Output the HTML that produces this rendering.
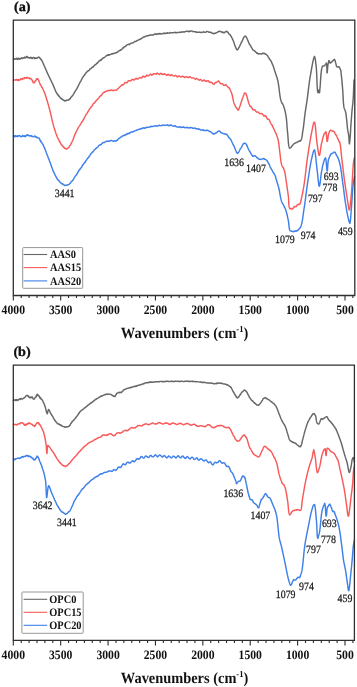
<!DOCTYPE html>
<html><head><meta charset="utf-8"><style>
html,body{margin:0;padding:0;background:#fff;}
body{width:357px;height:687px;overflow:hidden;}
svg{display:block;filter:blur(0.5px);}
text{font-family:"Liberation Serif",serif;fill:#111;text-rendering:geometricPrecision;}
.pl{font-size:14.2px;font-weight:bold;stroke:#000;stroke-width:0.3px;}
.tl{font-size:11.7px;font-weight:bold;text-anchor:middle;}
.at{font-size:14.4px;font-weight:bold;text-anchor:middle;}
.lt{font-size:10.4px;font-weight:bold;}
.an{font-size:9.9px;stroke:#222;stroke-width:0.22px;}
.cv{fill:none;stroke-width:1.45;stroke-linejoin:round;stroke-linecap:round;}
.fr{fill:none;stroke:#303030;stroke-width:1.3;}
.tk{fill:none;stroke:#2a2a2a;stroke-width:1.1;}
.lg{fill:#fff;fill-opacity:0;stroke:#8a8a8a;stroke-width:0.9;}
</style></head><body>
<svg width="357" height="687" viewBox="0 0 357 687">
<text transform="translate(14.00,10.90) scale(1,0.97)" class="pl">(a)</text>
<path d="M13.50,59.30 L14.00,58.84 L14.49,59.14 L14.99,58.77 L15.48,59.12 L15.97,59.20 L16.47,58.38 L16.96,58.29 L17.46,59.47 L17.96,58.41 L18.46,58.20 L18.97,59.26 L19.48,58.42 L20.00,59.02 L20.50,58.49 L21.02,58.69 L21.54,57.79 L22.07,58.31 L22.61,58.45 L23.15,57.78 L23.69,58.08 L24.22,57.98 L24.76,57.03 L25.29,58.00 L25.81,57.56 L26.33,56.93 L26.83,56.38 L27.32,57.65 L27.80,57.11 L28.36,57.63 L28.91,58.00 L29.45,57.79 L29.97,58.09 L30.49,57.28 L31.00,57.97 L31.50,57.58 L32.00,58.54 L32.50,58.64 L33.00,57.53 L33.58,57.58 L34.19,57.62 L34.79,58.71 L35.39,57.95 L35.96,58.36 L36.49,57.95 L36.98,58.26 L37.40,57.95 L37.93,57.43 L38.35,57.25 L38.80,56.99 L39.22,57.61 L39.66,57.64 L40.11,58.57 L40.56,59.09 L41.00,59.49 L41.23,59.60 L41.47,59.59 L41.70,60.44 L41.93,60.90 L42.15,61.02 L42.38,61.51 L42.61,62.01 L42.83,62.53 L43.05,63.06 L43.28,63.59 L43.50,64.13 L43.73,64.66 L43.95,65.18 L44.17,65.70 L44.40,66.20 L44.61,66.65 L44.81,67.10 L45.01,67.55 L45.21,68.01 L45.41,68.46 L45.61,68.91 L45.80,69.36 L46.00,69.82 L46.20,70.28 L46.40,70.74 L46.61,71.21 L46.81,71.68 L47.02,72.15 L47.23,72.63 L47.45,73.11 L47.67,73.60 L47.90,74.10 L48.10,74.52 L48.30,74.96 L48.51,75.40 L48.72,75.85 L48.94,76.30 L49.16,76.76 L49.38,77.23 L49.61,77.70 L49.83,78.17 L50.06,78.64 L50.29,79.12 L50.53,79.60 L50.76,80.07 L50.99,80.54 L51.21,81.01 L51.44,81.48 L51.66,81.95 L51.88,82.40 L52.10,82.86 L52.31,83.30 L52.52,83.74 L52.72,84.17 L52.91,84.59 L53.10,85.00 L53.33,85.51 L53.54,86.01 L53.75,86.50 L53.95,86.99 L54.15,87.47 L54.34,87.95 L54.53,88.42 L54.71,88.88 L54.90,89.33 L55.09,89.78 L55.28,90.22 L55.47,90.65 L55.67,91.07 L55.88,91.75 L56.10,91.97 L56.36,92.60 L56.62,92.75 L56.89,93.65 L57.15,93.91 L57.43,94.11 L57.70,94.32 L57.99,95.22 L58.28,95.64 L58.57,95.35 L58.88,96.19 L59.20,96.29 L59.55,96.54 L59.91,97.10 L60.28,97.90 L60.66,98.40 L61.05,98.20 L61.44,98.90 L61.83,98.74 L62.23,99.41 L62.62,99.33 L63.00,99.92 L63.50,100.29 L64.00,100.29 L64.50,100.93 L65.00,100.62 L65.50,100.50 L66.00,100.77 L66.52,100.21 L67.04,100.17 L67.56,100.19 L68.08,100.22 L68.60,99.72 L69.10,99.33 L69.46,99.58 L69.82,98.80 L70.17,98.80 L70.53,98.29 L70.87,97.46 L71.22,97.08 L71.56,96.70 L71.90,96.39 L72.23,95.96 L72.57,95.52 L72.90,95.13 L73.19,94.95 L73.47,94.19 L73.76,93.66 L74.05,93.35 L74.33,92.50 L74.61,92.05 L74.89,92.05 L75.17,91.27 L75.44,90.87 L75.71,90.10 L75.97,90.00 L76.22,89.74 L76.46,88.97 L76.70,89.01 L76.99,88.54 L77.27,87.63 L77.53,87.50 L77.79,86.86 L78.03,86.48 L78.28,85.73 L78.52,85.47 L78.76,85.00 L79.00,84.02 L79.25,84.00 L79.48,83.52 L79.71,83.04 L79.93,82.56 L80.16,82.07 L80.41,81.36 L80.69,81.31 L81.00,80.97 L81.21,80.10 L81.44,79.83 L81.67,79.49 L81.91,78.84 L82.16,78.39 L82.42,77.87 L82.69,77.44 L82.96,77.14 L83.24,76.50 L83.53,76.15 L83.83,76.04 L84.13,75.14 L84.44,75.15 L84.76,74.87 L85.09,74.15 L85.42,73.64 L85.76,73.57 L86.10,72.69 L86.43,72.22 L86.77,71.98 L87.13,71.80 L87.49,71.07 L87.86,70.95 L88.24,70.70 L88.63,70.77 L89.03,70.18 L89.42,70.10 L89.83,69.20 L90.24,68.89 L90.64,68.70 L91.06,68.51 L91.47,67.91 L91.88,67.50 L92.29,67.19 L92.70,67.21 L93.11,66.65 L93.51,66.70 L93.91,66.30 L94.30,65.41 L94.69,65.07 L95.08,65.08 L95.46,64.65 L95.85,64.48 L96.24,63.89 L96.63,63.45 L97.02,63.23 L97.42,63.19 L97.81,62.39 L98.19,61.99 L98.58,61.62 L98.97,61.24 L99.36,60.91 L99.74,60.99 L100.13,60.21 L100.51,59.85 L100.89,60.23 L101.27,59.87 L101.65,59.58 L102.03,58.82 L102.40,58.83 L102.85,58.43 L103.30,57.63 L103.74,57.76 L104.18,57.63 L104.61,57.30 L105.04,56.95 L105.47,56.49 L105.91,56.18 L106.34,55.75 L106.78,55.33 L107.22,55.47 L107.67,55.10 L108.13,55.36 L108.60,54.70 L109.08,55.14 L109.58,54.76 L110.09,54.66 L110.61,54.40 L111.14,54.25 L111.66,53.98 L112.19,53.59 L112.72,54.08 L113.24,53.56 L113.76,53.45 L114.26,53.45 L114.76,53.13 L115.24,52.89 L115.70,53.14 L116.21,52.79 L116.70,52.45 L117.17,52.14 L117.63,52.23 L118.08,51.59 L118.53,51.42 L118.98,50.79 L119.42,50.41 L119.87,50.43 L120.33,50.41 L120.80,49.71 L121.19,49.87 L121.59,49.62 L121.99,49.16 L122.39,48.77 L122.79,47.83 L123.19,47.94 L123.59,47.83 L124.00,47.03 L124.41,46.95 L124.82,46.69 L125.23,46.56 L125.64,46.13 L126.06,45.79 L126.48,45.64 L126.90,44.80 L127.36,44.61 L127.83,44.52 L128.30,44.41 L128.77,44.24 L129.24,44.68 L129.72,44.34 L130.20,43.52 L130.68,43.54 L131.16,43.22 L131.64,43.10 L132.13,43.05 L132.61,43.14 L133.10,42.91 L133.55,42.49 L134.01,42.05 L134.47,41.82 L134.93,41.40 L135.39,41.50 L135.86,41.46 L136.32,41.09 L136.79,40.71 L137.25,40.53 L137.72,40.35 L138.18,40.17 L138.64,39.97 L139.10,39.43 L139.55,39.54 L140.00,39.29 L140.48,39.01 L140.95,38.76 L141.41,38.56 L141.86,38.36 L142.31,37.81 L142.76,37.67 L143.21,37.26 L143.67,36.93 L144.14,37.01 L144.62,36.98 L145.13,36.35 L145.65,36.32 L146.20,36.00 L146.63,36.10 L147.08,35.99 L147.54,35.52 L148.01,35.87 L148.50,35.79 L148.99,35.35 L149.49,35.35 L150.00,34.91 L150.52,35.19 L151.04,34.95 L151.57,35.08 L152.10,35.05 L152.63,34.99 L153.17,34.98 L153.71,34.71 L154.24,34.19 L154.78,34.37 L155.31,33.90 L155.84,34.02 L156.37,34.51 L156.89,34.00 L157.40,33.94 L157.91,33.77 L158.42,34.14 L158.92,33.53 L159.43,33.39 L159.94,34.01 L160.45,33.56 L160.96,34.06 L161.47,33.85 L161.98,33.81 L162.49,33.73 L163.00,33.37 L163.50,33.53 L164.01,33.06 L164.52,33.63 L165.03,33.45 L165.54,33.50 L166.05,32.92 L166.56,33.22 L167.07,33.28 L167.58,32.68 L168.09,32.94 L168.60,33.17 L169.11,33.34 L169.62,32.83 L170.13,32.63 L170.64,32.55 L171.14,32.76 L171.65,32.89 L172.16,32.73 L172.67,32.77 L173.18,32.78 L173.69,32.64 L174.20,32.55 L174.71,32.20 L175.22,32.45 L175.73,32.84 L176.24,32.53 L176.75,32.82 L177.26,32.38 L177.76,32.63 L178.27,32.53 L178.78,32.36 L179.29,32.22 L179.80,32.24 L180.32,32.43 L180.84,32.63 L181.37,32.03 L181.91,31.82 L182.46,32.10 L183.01,32.09 L183.56,31.80 L184.11,31.80 L184.66,32.02 L185.21,31.59 L185.76,31.49 L186.29,31.25 L186.82,31.38 L187.35,31.15 L187.86,31.13 L188.36,31.52 L188.84,31.73 L189.31,31.22 L189.76,31.41 L190.20,31.09 L190.61,31.32 L191.00,31.11 L191.59,30.99 L192.12,31.14 L192.60,31.19 L193.06,31.65 L193.51,31.65 L193.97,31.51 L194.46,31.63 L195.00,31.63 L195.44,32.02 L195.90,31.71 L196.37,32.45 L196.86,32.19 L197.35,32.28 L197.86,32.12 L198.38,32.28 L198.90,32.23 L199.42,32.09 L199.94,32.15 L200.46,32.44 L200.98,32.59 L201.50,32.24 L202.00,32.36 L202.50,32.41 L203.01,32.00 L203.52,31.84 L204.03,31.91 L204.55,32.31 L205.06,32.26 L205.57,32.35 L206.08,32.12 L206.59,31.56 L207.09,31.47 L207.58,31.56 L208.06,31.62 L208.54,32.11 L209.00,32.30 L209.56,32.39 L210.10,31.99 L210.63,32.52 L211.15,32.35 L211.66,32.74 L212.17,33.30 L212.67,33.15 L213.18,33.33 L213.69,33.88 L214.20,33.41 L214.68,33.30 L215.17,33.30 L215.66,33.23 L216.15,32.62 L216.64,32.67 L217.12,32.47 L217.61,32.17 L218.09,31.61 L218.56,31.57 L219.04,31.64 L219.50,31.22 L220.06,31.48 L220.63,31.42 L221.19,31.75 L221.75,32.18 L222.29,31.90 L222.82,32.57 L223.32,32.73 L223.80,32.27 L224.37,32.82 L224.89,32.16 L225.39,32.05 L225.88,31.67 L226.40,31.17 L226.80,31.51 L227.21,31.72 L227.62,32.21 L228.04,32.32 L228.46,33.19 L228.87,33.86 L229.27,34.13 L229.64,34.46 L230.00,34.53 L230.30,35.12 L230.58,35.36 L230.84,35.99 L231.10,36.37 L231.34,36.73 L231.58,36.93 L231.82,37.76 L232.07,38.28 L232.33,38.52 L232.60,39.59 L232.79,39.60 L232.99,40.05 L233.19,40.55 L233.39,41.09 L233.60,41.66 L233.81,42.26 L234.02,42.87 L234.23,43.50 L234.45,44.13 L234.66,44.76 L234.88,45.39 L235.10,45.99 L235.32,46.57 L235.54,47.12 L235.76,47.64 L235.98,48.11 L236.20,48.68 L236.42,48.71 L236.65,49.61 L236.86,49.30 L237.08,49.58 L237.30,49.89 L237.55,49.72 L237.81,49.49 L238.06,49.25 L238.32,48.72 L238.58,48.17 L238.83,47.59 L239.09,47.44 L239.35,46.89 L239.61,46.31 L239.86,45.71 L240.12,45.11 L240.38,44.51 L240.63,43.93 L240.89,43.38 L241.15,42.71 L241.40,42.67 L241.67,42.16 L241.95,41.36 L242.22,40.79 L242.49,40.19 L242.76,39.59 L243.04,39.00 L243.31,38.42 L243.58,37.82 L243.85,37.52 L244.12,36.88 L244.39,36.52 L244.66,36.37 L244.93,36.57 L245.20,35.92 L245.45,36.28 L245.70,36.22 L245.96,36.80 L246.21,36.80 L246.46,37.15 L246.71,37.85 L246.96,38.39 L247.21,38.96 L247.46,39.55 L247.71,40.17 L247.96,40.78 L248.21,41.39 L248.46,41.97 L248.71,42.53 L248.95,43.12 L249.20,43.67 L249.46,44.27 L249.71,44.39 L249.95,45.13 L250.19,45.01 L250.43,45.52 L250.67,45.81 L250.91,46.23 L251.16,47.13 L251.42,47.54 L251.69,47.62 L251.97,48.09 L252.28,48.72 L252.60,49.39 L252.93,49.85 L253.28,50.17 L253.64,50.38 L254.01,50.37 L254.39,50.84 L254.78,51.01 L255.18,51.60 L255.60,52.02 L256.01,52.18 L256.44,52.61 L256.87,53.31 L257.31,53.01 L257.75,53.69 L258.20,53.83 L258.68,53.91 L259.19,53.57 L259.72,53.78 L260.26,53.89 L260.82,53.95 L261.37,54.10 L261.93,53.70 L262.48,53.24 L263.01,53.52 L263.53,53.28 L264.02,53.48 L264.48,53.73 L264.90,53.40 L265.37,54.14 L265.80,54.27 L266.19,54.38 L266.56,54.69 L266.91,55.01 L267.26,55.25 L267.59,55.98 L267.94,56.18 L268.30,57.07 L268.57,57.58 L268.84,57.86 L269.12,58.35 L269.39,59.03 L269.67,59.37 L269.95,59.24 L270.23,60.10 L270.50,60.41 L270.77,60.46 L271.04,61.15 L271.30,61.57 L271.55,62.00 L271.80,62.88 L272.04,63.37 L272.27,63.86 L272.49,64.33 L272.70,64.80 L272.91,65.29 L273.10,65.77 L273.29,66.27 L273.46,66.76 L273.62,67.25 L273.78,67.74 L273.93,68.24 L274.08,68.73 L274.23,69.22 L274.37,69.71 L274.51,70.19 L274.65,70.68 L274.80,71.16 L274.95,71.63 L275.10,72.10 L275.27,72.59 L275.44,73.08 L275.61,73.57 L275.78,74.05 L275.95,74.53 L276.13,75.01 L276.29,75.48 L276.46,75.95 L276.62,76.43 L276.78,76.89 L276.92,77.36 L277.07,77.83 L277.20,78.30 L277.34,78.80 L277.46,79.29 L277.57,79.76 L277.68,80.22 L277.78,80.69 L277.88,81.16 L277.98,81.65 L278.08,82.16 L278.18,82.70 L278.29,83.28 L278.40,83.90 L278.47,84.27 L278.53,84.67 L278.60,85.09 L278.66,85.52 L278.73,85.98 L278.79,86.45 L278.85,86.94 L278.92,87.44 L278.98,87.96 L279.05,88.49 L279.11,89.02 L279.18,89.57 L279.25,90.12 L279.31,90.68 L279.38,91.24 L279.45,91.80 L279.52,92.37 L279.59,92.93 L279.67,93.49 L279.74,94.05 L279.82,94.61 L279.89,95.15 L279.97,95.69 L280.05,96.22 L280.14,96.74 L280.22,97.25 L280.31,97.75 L280.40,98.22 L280.49,98.69 L280.59,99.13 L280.69,99.56 L280.79,99.96 L280.89,100.34 L281.00,100.70 L281.20,101.28 L281.42,101.81 L281.64,102.39 L281.88,103.05 L282.12,102.98 L282.36,103.72 L282.60,103.96 L282.84,103.96 L283.07,104.80 L283.29,105.27 L283.50,105.80 L283.65,106.22 L283.80,106.64 L283.94,107.08 L284.08,107.53 L284.22,107.98 L284.36,108.45 L284.49,108.92 L284.62,109.41 L284.75,109.90 L284.88,110.40 L285.01,110.91 L285.13,111.43 L285.25,111.95 L285.36,112.48 L285.48,113.02 L285.59,113.56 L285.69,114.12 L285.80,114.67 L285.90,115.23 L286.00,115.80 L286.07,116.25 L286.14,116.70 L286.21,117.17 L286.27,117.64 L286.33,118.12 L286.39,118.61 L286.45,119.10 L286.50,119.60 L286.55,120.10 L286.59,120.61 L286.64,121.13 L286.68,121.65 L286.73,122.17 L286.77,122.69 L286.81,123.22 L286.85,123.75 L286.89,124.29 L286.93,124.82 L286.96,125.36 L287.00,125.89 L287.04,126.43 L287.08,126.96 L287.12,127.50 L287.16,128.03 L287.20,128.56 L287.25,129.09 L287.29,129.62 L287.34,130.14 L287.38,130.66 L287.43,131.18 L287.49,131.69 L287.54,132.20 L287.60,132.70 L287.66,133.24 L287.72,133.80 L287.77,134.39 L287.82,134.99 L287.87,135.62 L287.92,136.25 L287.97,136.90 L288.01,137.55 L288.06,138.22 L288.10,138.88 L288.15,139.54 L288.20,140.20 L288.25,140.85 L288.30,141.49 L288.35,142.12 L288.41,142.73 L288.47,143.33 L288.53,143.90 L288.60,144.45 L288.68,144.97 L288.76,145.46 L288.84,145.91 L288.94,146.33 L289.04,146.71 L289.14,147.05 L289.26,147.34 L289.38,147.96 L289.51,147.96 L289.65,148.30 L289.80,148.20 L290.10,148.14 L290.42,147.61 L290.76,147.57 L291.12,147.22 L291.49,146.72 L291.88,145.99 L292.28,145.79 L292.69,145.21 L293.10,144.57 L293.50,144.17 L293.93,143.80 L294.37,143.48 L294.82,143.10 L295.28,143.05 L295.74,142.99 L296.19,142.71 L296.64,142.45 L297.08,142.39 L297.50,141.87 L297.99,141.65 L298.48,141.59 L298.97,141.16 L299.45,140.89 L299.90,141.30 L300.32,141.00 L300.70,140.44 L300.90,140.18 L301.08,139.97 L301.25,139.45 L301.40,139.07 L301.54,138.66 L301.67,138.22 L301.79,137.76 L301.89,137.28 L301.99,136.77 L302.08,136.25 L302.16,135.72 L302.25,135.17 L302.32,134.61 L302.40,134.04 L302.48,133.47 L302.55,132.89 L302.63,132.32 L302.72,131.74 L302.81,131.17 L302.90,130.60 L302.97,130.17 L303.05,129.73 L303.12,129.27 L303.19,128.81 L303.26,128.34 L303.32,127.87 L303.39,127.38 L303.46,126.89 L303.52,126.39 L303.59,125.89 L303.65,125.38 L303.71,124.86 L303.77,124.35 L303.84,123.82 L303.90,123.30 L303.96,122.77 L304.02,122.25 L304.08,121.72 L304.14,121.19 L304.20,120.66 L304.26,120.13 L304.31,119.60 L304.37,119.07 L304.43,118.55 L304.49,118.03 L304.55,117.51 L304.61,117.00 L304.67,116.49 L304.73,115.98 L304.79,115.49 L304.85,114.99 L304.91,114.51 L304.97,114.03 L305.04,113.56 L305.10,113.10 L305.17,112.57 L305.25,112.05 L305.32,111.54 L305.40,111.04 L305.47,110.55 L305.54,110.07 L305.62,109.59 L305.69,109.12 L305.76,108.66 L305.84,108.19 L305.91,107.73 L305.99,107.27 L306.06,106.81 L306.13,106.34 L306.21,105.87 L306.28,105.40 L306.36,104.92 L306.44,104.43 L306.52,103.93 L306.59,103.43 L306.67,102.91 L306.75,102.38 L306.83,101.83 L306.92,101.27 L307.00,100.70 L307.06,100.28 L307.12,99.85 L307.18,99.42 L307.24,98.97 L307.30,98.52 L307.36,98.06 L307.42,97.60 L307.48,97.13 L307.54,96.65 L307.60,96.16 L307.67,95.67 L307.73,95.18 L307.79,94.68 L307.85,94.18 L307.91,93.67 L307.98,93.15 L308.04,92.64 L308.10,92.12 L308.17,91.59 L308.23,91.07 L308.30,90.54 L308.36,90.01 L308.43,89.48 L308.49,88.94 L308.56,88.41 L308.63,87.87 L308.69,87.33 L308.76,86.79 L308.83,86.26 L308.90,85.72 L308.97,85.18 L309.04,84.65 L309.11,84.11 L309.18,83.58 L309.25,83.05 L309.32,82.52 L309.39,81.99 L309.47,81.47 L309.54,80.95 L309.62,80.43 L309.69,79.91 L309.77,79.40 L309.84,78.90 L309.92,78.40 L310.00,77.90 L310.08,77.41 L310.16,76.92 L310.24,76.44 L310.32,75.97 L310.40,75.50 L310.50,74.96 L310.59,74.40 L310.69,73.82 L310.80,73.23 L310.90,72.62 L311.01,72.00 L311.12,71.37 L311.23,70.74 L311.34,70.09 L311.45,69.44 L311.57,68.79 L311.68,68.13 L311.80,67.48 L311.92,66.83 L312.04,66.18 L312.16,65.54 L312.27,64.91 L312.39,64.29 L312.51,63.68 L312.63,63.08 L312.75,62.51 L312.86,61.94 L312.98,61.40 L313.09,60.88 L313.21,60.38 L313.32,59.91 L313.43,59.47 L313.54,59.05 L313.65,58.67 L313.75,58.31 L313.85,58.00 L313.96,57.71 L314.05,57.47 L314.15,57.30 L314.24,56.86 L314.33,56.57 L314.42,56.63 L314.50,56.99 L314.61,56.57 L314.72,56.91 L314.82,57.28 L314.92,57.56 L315.02,57.90 L315.11,58.30 L315.21,58.76 L315.29,59.26 L315.38,59.80 L315.47,60.38 L315.55,60.99 L315.63,61.62 L315.70,62.27 L315.78,62.93 L315.85,63.59 L315.93,64.26 L316.00,64.92 L316.07,65.57 L316.13,66.19 L316.20,66.80 L316.24,67.22 L316.29,67.66 L316.33,68.11 L316.37,68.58 L316.40,69.06 L316.44,69.55 L316.47,70.06 L316.51,70.58 L316.54,71.11 L316.57,71.65 L316.60,72.20 L316.63,72.75 L316.65,73.31 L316.68,73.88 L316.70,74.45 L316.73,75.03 L316.75,75.61 L316.77,76.19 L316.79,76.77 L316.81,77.35 L316.83,77.93 L316.86,78.51 L316.88,79.08 L316.90,79.65 L316.91,80.21 L316.93,80.77 L316.95,81.32 L316.97,81.87 L316.99,82.40 L317.01,82.93 L317.03,83.44 L317.05,83.94 L317.08,84.43 L317.10,84.91 L317.12,85.37 L317.14,85.82 L317.17,86.24 L317.19,86.65 L317.22,87.05 L317.24,87.42 L317.27,87.77 L317.30,88.10 L317.36,88.80 L317.42,89.50 L317.48,90.18 L317.54,90.82 L317.60,91.39 L317.66,91.88 L317.73,92.26 L317.81,92.51 L317.90,92.41 L318.06,92.28 L318.24,91.55 L318.42,90.83 L318.60,90.18 L318.75,90.77 L318.89,91.42 L319.03,92.19 L319.17,92.84 L319.30,92.74 L319.38,92.83 L319.45,92.81 L319.52,92.49 L319.59,92.06 L319.66,91.55 L319.72,90.97 L319.79,90.34 L319.85,89.68 L319.91,88.99 L319.97,88.31 L320.04,87.64 L320.10,87.00 L320.14,86.59 L320.18,86.17 L320.22,85.72 L320.25,85.25 L320.29,84.77 L320.32,84.27 L320.35,83.76 L320.39,83.24 L320.42,82.70 L320.45,82.16 L320.48,81.61 L320.52,81.06 L320.55,80.50 L320.58,79.94 L320.61,79.38 L320.65,78.82 L320.68,78.26 L320.72,77.71 L320.75,77.17 L320.79,76.63 L320.83,76.10 L320.87,75.58 L320.91,75.08 L320.95,74.58 L321.00,74.11 L321.05,73.65 L321.09,73.21 L321.15,72.80 L321.20,72.40 L321.28,71.77 L321.36,71.15 L321.43,70.55 L321.50,69.96 L321.57,69.40 L321.66,68.87 L321.76,68.37 L321.87,67.91 L322.02,67.49 L322.19,66.84 L322.40,66.38 L322.89,65.98 L323.47,65.84 L324.07,66.01 L324.60,65.51 L325.00,65.04 L325.37,64.70 L325.72,63.99 L326.03,63.67 L326.30,63.02 L326.41,63.35 L326.51,63.75 L326.59,64.12 L326.66,64.58 L326.72,65.14 L326.77,65.76 L326.81,66.44 L326.84,67.16 L326.87,67.91 L326.89,68.65 L326.91,69.39 L326.92,70.11 L326.94,70.78 L326.95,71.39 L326.97,71.92 L327.00,72.37 L327.02,72.71 L327.06,72.92 L327.10,72.78 L327.15,72.93 L327.20,72.73 L327.25,72.42 L327.30,72.01 L327.34,71.51 L327.39,70.94 L327.44,70.32 L327.49,69.65 L327.54,68.96 L327.60,68.26 L327.66,67.56 L327.72,66.87 L327.78,66.22 L327.85,65.61 L327.92,65.07 L328.00,64.60 L328.12,63.97 L328.24,63.31 L328.38,62.64 L328.51,62.01 L328.66,61.46 L328.80,61.01 L328.95,60.53 L329.10,61.07 L329.26,60.79 L329.42,61.29 L329.59,61.95 L329.76,62.62 L329.96,62.96 L330.20,63.07 L330.57,63.14 L330.99,62.47 L331.44,62.28 L331.90,61.67 L332.30,61.18 L332.74,60.68 L333.19,60.63 L333.64,59.80 L334.05,59.76 L334.40,59.39 L334.64,59.84 L334.86,60.01 L335.04,60.48 L335.20,61.04 L335.35,61.66 L335.50,62.28 L335.65,62.88 L335.80,63.40 L335.95,63.93 L336.08,64.50 L336.20,65.08 L336.33,65.64 L336.47,66.13 L336.66,66.52 L336.90,66.77 L337.42,66.84 L338.03,66.97 L338.60,66.77 L338.99,66.80 L339.36,67.01 L339.70,67.94 L340.02,68.75 L340.30,69.00 L340.45,69.38 L340.58,69.80 L340.69,70.24 L340.79,70.71 L340.87,71.20 L340.95,71.72 L341.01,72.26 L341.08,72.82 L341.14,73.39 L341.20,73.98 L341.26,74.58 L341.33,75.18 L341.40,75.80 L341.45,76.22 L341.50,76.65 L341.55,77.08 L341.60,77.53 L341.65,77.99 L341.70,78.46 L341.75,78.93 L341.80,79.41 L341.85,79.90 L341.89,80.40 L341.94,80.90 L341.99,81.41 L342.03,81.92 L342.08,82.44 L342.12,82.96 L342.17,83.48 L342.21,84.01 L342.26,84.54 L342.30,85.08 L342.35,85.61 L342.39,86.15 L342.44,86.69 L342.48,87.23 L342.52,87.76 L342.57,88.30 L342.61,88.83 L342.66,89.37 L342.70,89.90 L342.74,90.39 L342.78,90.89 L342.81,91.41 L342.85,91.94 L342.88,92.47 L342.91,93.01 L342.94,93.56 L342.97,94.12 L343.00,94.68 L343.03,95.25 L343.06,95.81 L343.08,96.38 L343.11,96.96 L343.14,97.53 L343.17,98.10 L343.19,98.66 L343.22,99.23 L343.25,99.79 L343.29,100.34 L343.32,100.89 L343.35,101.43 L343.39,101.96 L343.42,102.49 L343.46,103.00 L343.50,103.50 L343.55,103.99 L343.59,104.46 L343.64,104.92 L343.69,105.36 L343.75,105.79 L343.81,106.19 L343.87,106.58 L343.93,106.95 L344.00,107.30 L344.15,107.91 L344.31,108.44 L344.48,108.92 L344.66,109.37 L344.84,109.79 L345.02,110.20 L345.20,110.63 L345.36,111.09 L345.50,111.60 L345.61,112.05 L345.70,112.51 L345.79,112.98 L345.88,113.46 L345.96,113.95 L346.03,114.45 L346.10,114.95 L346.17,115.47 L346.23,116.00 L346.30,116.53 L346.36,117.08 L346.43,117.63 L346.50,118.20 L346.56,118.66 L346.61,119.14 L346.66,119.64 L346.72,120.15 L346.77,120.67 L346.82,121.20 L346.87,121.74 L346.92,122.28 L346.97,122.83 L347.02,123.38 L347.06,123.93 L347.11,124.48 L347.16,125.03 L347.21,125.58 L347.27,126.11 L347.32,126.64 L347.37,127.16 L347.43,127.67 L347.48,128.16 L347.54,128.64 L347.60,129.10 L347.68,129.65 L347.76,130.19 L347.85,130.70 L347.94,131.20 L348.03,131.69 L348.12,132.17 L348.21,132.65 L348.30,133.13 L348.39,133.60 L348.47,134.09 L348.55,134.58 L348.63,135.08 L348.70,135.60 L348.76,136.11 L348.81,136.67 L348.86,137.27 L348.91,137.91 L348.95,138.57 L349.00,139.24 L349.04,139.90 L349.07,140.54 L349.11,141.16 L349.15,141.73 L349.19,142.25 L349.23,142.70 L349.27,143.08 L349.31,143.36 L349.35,143.54 L349.40,143.79 L349.45,143.53 L349.51,143.34 L349.57,143.03 L349.63,142.62 L349.68,142.13 L349.74,141.57 L349.80,140.96 L349.86,140.30 L349.92,139.62 L349.98,138.92 L350.04,138.23 L350.10,137.55 L350.15,136.90 L350.20,136.30 L350.24,135.83 L350.28,135.35 L350.31,134.87 L350.35,134.38 L350.38,133.89 L350.42,133.39 L350.45,132.89 L350.48,132.38 L350.51,131.86 L350.54,131.34 L350.57,130.82 L350.60,130.29 L350.63,129.76 L350.66,129.23 L350.69,128.69 L350.72,128.15 L350.76,127.61 L350.79,127.06 L350.83,126.51 L350.86,125.95 L350.90,125.40 L350.93,124.93 L350.97,124.46 L351.00,123.98 L351.03,123.49 L351.07,123.00 L351.10,122.50 L351.14,122.00 L351.18,121.49 L351.21,120.98 L351.25,120.47 L351.29,119.96 L351.32,119.44 L351.36,118.93 L351.40,118.41 L351.44,117.89 L351.48,117.37 L351.52,116.86 L351.56,116.34 L351.60,115.83 L351.63,115.31 L351.67,114.81 L351.72,114.30 L351.76,113.80 L351.80,113.30 L351.84,112.81 L351.88,112.32 L351.92,111.84 L351.96,111.37 L352.00,110.90 L352.05,110.35 L352.10,109.81 L352.15,109.29 L352.21,108.77 L352.26,108.27 L352.32,107.77 L352.37,107.27 L352.43,106.78 L352.48,106.29 L352.54,105.80 L352.59,105.31 L352.65,104.82 L352.70,104.32 L352.76,103.82 L352.81,103.31 L352.86,102.79 L352.91,102.26 L352.96,101.72 L353.01,101.16 L353.06,100.59 L353.10,100.00 L353.13,99.57 L353.16,99.14 L353.19,98.69 L353.22,98.25 L353.24,97.79 L353.27,97.33 L353.30,96.86 L353.32,96.39 L353.35,95.91 L353.37,95.43 L353.40,94.94 L353.42,94.44 L353.44,93.95 L353.46,93.45 L353.49,92.94 L353.51,92.44 L353.53,91.93 L353.55,91.41 L353.57,90.90 L353.59,90.38 L353.61,89.86 L353.63,89.34 L353.65,88.81 L353.67,88.29 L353.69,87.77 L353.71,87.24 L353.73,86.72 L353.75,86.19 L353.77,85.67 L353.79,85.14 L353.81,84.62 L353.83,84.10 L353.85,83.58 L353.87,83.06 L353.89,82.54 L353.91,82.03 L353.93,81.52 L353.96,81.01 L353.98,80.50 L354.00,80.00" stroke="#676767" class="cv"/>
<path d="M13.50,80.70 L14.00,79.87 L14.49,79.92 L14.99,80.00 L15.48,80.03 L15.97,79.70 L16.47,79.53 L16.96,80.17 L17.46,80.43 L17.96,79.50 L18.46,80.53 L18.97,79.81 L19.48,80.08 L20.00,80.01 L20.48,79.85 L20.97,78.53 L21.47,78.83 L21.99,79.17 L22.51,79.50 L23.03,78.15 L23.56,78.14 L24.08,78.63 L24.60,77.51 L25.11,77.82 L25.60,77.72 L26.08,78.11 L26.55,78.32 L26.99,77.18 L27.41,77.82 L27.80,77.79 L28.43,78.06 L29.00,77.96 L29.53,78.74 L30.03,78.25 L30.52,78.55 L31.00,78.56 L31.37,79.61 L31.74,79.70 L32.09,80.01 L32.43,80.52 L32.76,81.88 L33.08,82.28 L33.40,82.83 L33.70,82.65 L34.00,82.83 L34.36,82.15 L34.71,82.42 L35.04,80.93 L35.37,80.91 L35.68,80.75 L36.00,80.23 L36.36,79.05 L36.70,78.77 L37.05,79.20 L37.40,78.77 L37.62,79.14 L37.84,79.32 L38.07,79.06 L38.29,79.62 L38.52,80.13 L38.75,80.70 L38.99,81.30 L39.23,81.92 L39.48,82.54 L39.74,83.14 L40.00,83.70 L40.21,84.74 L40.42,84.95 L40.65,84.85 L40.88,85.32 L41.12,85.64 L41.36,86.24 L41.61,86.98 L41.85,86.89 L42.11,87.61 L42.36,87.80 L42.60,88.27 L42.85,89.13 L43.09,89.41 L43.33,90.06 L43.56,90.54 L43.79,91.01 L44.00,91.48 L44.21,91.94 L44.40,92.40 L44.60,92.90 L44.79,93.39 L44.97,93.87 L45.15,94.35 L45.32,94.84 L45.48,95.32 L45.64,95.80 L45.79,96.28 L45.94,96.76 L46.09,97.25 L46.24,97.74 L46.38,98.24 L46.53,98.74 L46.68,99.25 L46.84,99.77 L47.00,100.30 L47.14,100.75 L47.28,101.21 L47.41,101.68 L47.55,102.15 L47.69,102.62 L47.84,103.11 L47.98,103.59 L48.12,104.08 L48.26,104.57 L48.40,105.07 L48.54,105.57 L48.68,106.07 L48.82,106.56 L48.95,107.06 L49.09,107.56 L49.23,108.06 L49.36,108.56 L49.49,109.05 L49.62,109.55 L49.75,110.03 L49.88,110.52 L50.00,111.00 L50.13,111.50 L50.25,112.01 L50.37,112.51 L50.49,113.01 L50.61,113.52 L50.72,114.02 L50.84,114.52 L50.95,115.02 L51.06,115.52 L51.17,116.02 L51.28,116.52 L51.39,117.02 L51.50,117.51 L51.61,118.00 L51.72,118.49 L51.84,118.98 L51.95,119.46 L52.06,119.95 L52.18,120.42 L52.30,120.90 L52.43,121.41 L52.56,121.92 L52.69,122.43 L52.82,122.93 L52.94,123.43 L53.07,123.92 L53.20,124.42 L53.33,124.91 L53.46,125.40 L53.60,125.88 L53.73,126.37 L53.87,126.86 L54.01,127.35 L54.15,127.83 L54.30,128.32 L54.45,128.81 L54.60,129.30 L54.76,129.80 L54.91,130.30 L55.07,130.80 L55.23,131.31 L55.40,131.81 L55.56,132.32 L55.73,132.82 L55.90,133.32 L56.07,133.83 L56.25,134.33 L56.43,134.82 L56.61,135.31 L56.80,135.80 L56.99,136.29 L57.19,136.76 L57.39,137.24 L57.60,137.70 L57.83,138.19 L58.07,138.69 L58.31,139.03 L58.56,139.60 L58.82,140.37 L59.08,140.78 L59.35,140.86 L59.61,141.41 L59.88,142.27 L60.16,142.25 L60.43,142.90 L60.70,143.27 L60.97,143.94 L61.24,144.29 L61.50,144.84 L61.83,145.19 L62.17,145.45 L62.50,145.84 L62.84,146.14 L63.17,146.90 L63.51,146.78 L63.84,147.03 L64.17,147.91 L64.50,147.76 L65.00,148.64 L65.50,148.54 L65.99,148.95 L66.50,148.76 L66.93,148.91 L67.37,148.49 L67.81,148.19 L68.25,147.94 L68.68,147.65 L69.10,146.93 L69.38,146.75 L69.65,146.26 L69.92,145.62 L70.19,145.57 L70.45,144.93 L70.71,144.55 L70.97,143.69 L71.22,143.40 L71.47,143.00 L71.72,142.50 L71.96,142.00 L72.20,141.50 L72.40,141.06 L72.60,140.62 L72.79,140.15 L72.98,139.68 L73.17,139.20 L73.35,138.72 L73.53,138.23 L73.71,137.73 L73.89,137.24 L74.07,136.74 L74.25,136.25 L74.44,135.77 L74.62,135.29 L74.81,134.81 L75.00,134.35 L75.20,133.90 L75.43,133.40 L75.65,132.92 L75.88,132.43 L76.11,131.96 L76.34,131.49 L76.57,131.12 L76.81,130.80 L77.05,129.92 L77.29,129.57 L77.54,129.14 L77.79,128.39 L78.04,128.18 L78.30,127.82 L78.55,127.20 L78.81,126.94 L79.07,126.53 L79.34,125.92 L79.61,125.62 L79.89,125.61 L80.16,124.80 L80.44,124.40 L80.72,123.72 L81.00,123.31 L81.28,122.78 L81.55,122.75 L81.83,122.16 L82.10,121.81 L82.35,121.48 L82.59,120.88 L82.84,120.70 L83.08,120.09 L83.31,119.63 L83.55,119.54 L83.79,119.08 L84.03,118.66 L84.27,117.91 L84.52,117.59 L84.77,116.87 L85.02,116.73 L85.28,116.21 L85.55,115.37 L85.82,115.31 L86.10,114.45 L86.34,114.05 L86.59,114.07 L86.85,113.45 L87.11,113.20 L87.37,112.86 L87.64,112.06 L87.91,112.01 L88.18,111.24 L88.45,110.84 L88.73,110.31 L89.01,110.09 L89.30,109.67 L89.58,108.99 L89.87,108.51 L90.16,108.26 L90.45,107.96 L90.74,107.37 L91.03,107.01 L91.32,106.93 L91.62,106.44 L91.91,106.15 L92.20,105.71 L92.53,105.18 L92.86,104.45 L93.20,103.95 L93.54,103.69 L93.88,103.45 L94.22,103.14 L94.56,102.76 L94.91,102.23 L95.26,102.07 L95.60,101.26 L95.95,100.93 L96.30,100.78 L96.65,100.37 L97.00,99.74 L97.35,99.41 L97.70,99.43 L98.05,98.61 L98.40,98.29 L98.75,98.08 L99.10,97.62 L99.45,96.93 L99.80,96.42 L100.15,96.11 L100.50,96.10 L100.85,95.59 L101.20,95.57 L101.55,95.10 L101.90,94.83 L102.26,93.85 L102.62,93.51 L102.99,92.99 L103.36,92.88 L103.73,92.52 L104.11,92.13 L104.50,92.25 L104.98,91.78 L105.48,91.67 L105.98,91.33 L106.49,91.35 L107.01,90.87 L107.53,90.64 L108.05,90.46 L108.57,90.66 L109.08,90.67 L109.60,90.52 L110.10,90.47 L110.60,90.26 L111.13,89.90 L111.65,89.94 L112.17,90.44 L112.69,90.53 L113.20,90.35 L113.72,90.50 L114.22,90.30 L114.72,90.17 L115.21,90.13 L115.70,90.01 L116.11,90.24 L116.52,90.14 L116.91,89.81 L117.30,89.17 L117.68,88.91 L118.07,88.72 L118.44,88.34 L118.82,87.93 L119.21,87.52 L119.59,87.25 L119.99,86.67 L120.39,86.41 L120.80,86.04 L121.21,85.65 L121.63,85.03 L122.05,84.84 L122.48,84.84 L122.91,84.91 L123.34,84.92 L123.78,84.24 L124.22,83.89 L124.66,82.77 L125.10,82.44 L125.55,82.43 L126.00,82.45 L126.45,82.81 L126.90,82.70 L127.36,82.37 L127.83,81.59 L128.29,80.67 L128.76,80.67 L129.23,80.66 L129.71,80.83 L130.18,80.86 L130.66,81.00 L131.14,80.69 L131.63,79.63 L132.12,79.54 L132.61,79.25 L133.10,79.52 L133.58,80.00 L134.06,80.10 L134.55,79.64 L135.05,78.87 L135.54,78.83 L136.04,78.20 L136.55,78.49 L137.05,79.08 L137.55,78.94 L138.05,78.74 L138.54,78.68 L139.03,78.17 L139.52,77.52 L140.00,77.61 L140.49,77.80 L140.96,77.91 L141.43,77.90 L141.89,77.96 L142.34,76.88 L142.80,76.50 L143.25,76.27 L143.72,76.28 L144.19,76.79 L144.67,77.06 L145.16,76.95 L145.67,76.34 L146.20,75.87 L146.65,75.08 L147.10,75.24 L147.57,75.87 L148.04,75.58 L148.52,75.71 L149.01,75.52 L149.50,74.85 L150.00,74.54 L150.51,74.08 L151.02,74.37 L151.54,75.11 L152.06,74.73 L152.58,74.91 L153.11,73.94 L153.64,73.97 L154.17,73.70 L154.70,73.96 L155.23,74.02 L155.77,74.07 L156.30,74.21 L156.79,73.42 L157.28,73.11 L157.78,73.51 L158.28,73.89 L158.79,73.82 L159.30,74.58 L159.81,74.17 L160.33,73.69 L160.84,73.23 L161.36,73.45 L161.88,74.22 L162.41,74.28 L162.93,74.43 L163.45,74.29 L163.97,73.91 L164.50,73.80 L165.02,74.25 L165.54,74.19 L166.05,74.74 L166.57,75.40 L167.08,75.27 L167.59,74.90 L168.10,74.22 L168.60,74.38 L169.12,75.16 L169.64,75.37 L170.16,75.72 L170.67,75.33 L171.18,74.80 L171.69,74.75 L172.20,75.11 L172.71,75.56 L173.22,75.92 L173.73,76.10 L174.23,76.03 L174.74,75.63 L175.24,75.43 L175.75,75.69 L176.25,75.71 L176.76,76.44 L177.26,76.92 L177.77,76.79 L178.28,76.05 L178.78,76.23 L179.29,76.17 L179.80,76.13 L180.31,76.68 L180.84,76.93 L181.37,76.73 L181.91,76.90 L182.46,76.24 L183.01,76.59 L183.56,76.57 L184.11,76.97 L184.66,77.61 L185.21,77.29 L185.76,76.99 L186.29,76.64 L186.83,76.77 L187.35,77.39 L187.86,77.35 L188.36,77.66 L188.84,77.33 L189.31,76.81 L189.76,76.90 L190.20,76.84 L190.61,77.28 L191.00,77.60 L191.59,77.99 L192.12,78.01 L192.61,77.90 L193.06,77.89 L193.51,77.85 L193.97,78.10 L194.46,78.61 L195.00,78.81 L195.44,79.38 L195.90,78.85 L196.37,78.49 L196.86,78.54 L197.35,78.81 L197.86,79.05 L198.37,79.79 L198.89,79.91 L199.42,80.27 L199.94,79.66 L200.46,79.47 L200.98,79.65 L201.49,80.32 L202.00,80.91 L202.50,80.92 L203.01,80.77 L203.52,80.54 L204.03,79.94 L204.55,80.21 L205.06,80.87 L205.57,81.32 L206.08,81.15 L206.59,81.53 L207.09,80.92 L207.58,81.02 L208.07,80.70 L208.54,80.98 L209.00,81.70 L209.51,82.39 L210.02,82.30 L210.52,82.48 L211.02,82.27 L211.50,82.19 L211.97,82.59 L212.44,83.35 L212.90,83.85 L213.34,84.11 L213.78,84.22 L214.20,84.03 L214.67,83.35 L215.12,82.69 L215.54,82.51 L215.96,82.51 L216.37,82.58 L216.79,82.13 L217.23,81.77 L217.70,81.48 L218.10,81.16 L218.53,80.91 L218.96,81.45 L219.41,82.23 L219.87,82.69 L220.33,83.40 L220.80,83.77 L221.26,83.81 L221.71,83.82 L222.16,83.62 L222.59,84.07 L223.00,84.20 L223.52,85.27 L224.03,85.32 L224.54,85.33 L225.03,85.27 L225.51,84.65 L225.96,84.61 L226.40,85.37 L226.82,85.85 L227.22,86.16 L227.60,86.63 L227.96,87.16 L228.31,87.15 L228.66,87.79 L229.00,87.59 L229.27,87.89 L229.54,88.33 L229.80,88.90 L230.06,89.45 L230.31,90.24 L230.56,90.72 L230.79,91.23 L231.03,91.74 L231.26,92.28 L231.48,92.83 L231.70,93.40 L231.85,93.82 L231.98,94.26 L232.11,94.72 L232.24,95.20 L232.35,95.69 L232.46,96.20 L232.57,96.72 L232.68,97.24 L232.78,97.78 L232.88,98.31 L232.99,98.85 L233.09,99.39 L233.20,99.93 L233.31,100.45 L233.43,100.97 L233.55,101.48 L233.68,101.98 L233.82,102.47 L233.97,102.93 L234.13,103.38 L234.30,103.80 L234.54,104.35 L234.79,104.94 L235.06,105.54 L235.34,106.15 L235.63,106.75 L235.93,107.32 L236.23,107.50 L236.53,107.64 L236.83,108.59 L237.13,108.90 L237.43,109.01 L237.72,109.63 L238.00,110.07 L238.20,110.27 L238.39,109.64 L238.59,109.40 L238.79,109.36 L238.98,108.89 L239.18,108.22 L239.37,107.79 L239.57,107.31 L239.76,106.80 L239.95,106.26 L240.14,105.69 L240.33,105.10 L240.52,104.49 L240.71,103.88 L240.90,103.26 L241.08,102.64 L241.26,102.03 L241.45,101.43 L241.63,100.84 L241.81,100.29 L241.98,99.76 L242.16,99.26 L242.33,98.81 L242.50,98.40 L242.74,97.83 L242.97,97.22 L243.19,96.59 L243.41,95.96 L243.63,95.34 L243.85,94.76 L244.06,94.22 L244.28,93.58 L244.50,93.29 L244.73,92.88 L244.96,92.95 L245.20,93.17 L245.36,93.49 L245.52,93.26 L245.67,93.58 L245.83,93.63 L245.99,93.70 L246.14,94.06 L246.30,94.47 L246.45,94.93 L246.61,95.42 L246.77,95.95 L246.93,96.51 L247.09,97.10 L247.25,97.71 L247.42,98.33 L247.59,98.97 L247.77,99.62 L247.95,100.26 L248.13,100.91 L248.32,101.55 L248.51,102.19 L248.71,102.80 L248.92,103.40 L249.13,103.97 L249.35,104.51 L249.57,105.02 L249.81,105.89 L250.05,105.76 L250.30,106.47 L250.63,106.42 L250.98,106.72 L251.35,106.87 L251.72,107.56 L252.10,108.40 L252.50,109.28 L252.90,109.54 L253.31,109.59 L253.72,110.01 L254.14,109.78 L254.56,109.78 L254.99,109.92 L255.41,110.54 L255.84,111.54 L256.26,111.60 L256.68,112.13 L257.10,112.22 L257.57,111.95 L258.05,112.16 L258.53,112.47 L259.02,112.97 L259.51,113.53 L260.01,113.64 L260.50,113.65 L260.99,113.70 L261.48,113.45 L261.96,113.47 L262.44,114.31 L262.90,114.55 L263.36,115.51 L263.80,115.95 L264.21,115.59 L264.62,116.05 L265.03,115.74 L265.42,115.81 L265.81,116.21 L266.20,116.73 L266.58,117.70 L266.95,118.26 L267.32,119.01 L267.68,119.29 L268.04,118.98 L268.39,119.29 L268.73,119.47 L269.07,119.67 L269.40,120.22 L269.69,120.79 L269.97,121.69 L270.24,122.13 L270.51,122.61 L270.78,123.21 L271.04,123.79 L271.29,124.22 L271.54,124.32 L271.79,124.85 L272.03,124.82 L272.27,125.66 L272.51,126.14 L272.74,126.62 L272.97,127.10 L273.20,127.59 L273.43,128.07 L273.65,128.55 L273.88,129.03 L274.10,129.50 L274.31,129.95 L274.53,130.41 L274.74,130.86 L274.95,131.31 L275.16,131.76 L275.37,132.21 L275.58,132.67 L275.79,133.12 L275.99,133.58 L276.19,134.04 L276.38,134.50 L276.57,134.97 L276.76,135.44 L276.94,135.91 L277.11,136.40 L277.28,136.88 L277.45,137.38 L277.61,137.88 L277.76,138.38 L277.90,138.90 L278.02,139.36 L278.13,139.84 L278.24,140.32 L278.34,140.81 L278.43,141.30 L278.52,141.80 L278.60,142.30 L278.68,142.81 L278.75,143.33 L278.82,143.85 L278.89,144.37 L278.96,144.89 L279.02,145.42 L279.08,145.94 L279.13,146.47 L279.19,147.00 L279.25,147.53 L279.30,148.06 L279.36,148.59 L279.42,149.11 L279.48,149.64 L279.54,150.16 L279.60,150.67 L279.66,151.19 L279.73,151.70 L279.80,152.20 L279.87,152.73 L279.94,153.26 L280.01,153.79 L280.08,154.33 L280.14,154.86 L280.20,155.41 L280.26,155.95 L280.32,156.49 L280.38,157.03 L280.44,157.57 L280.50,158.10 L280.56,158.64 L280.62,159.17 L280.69,159.69 L280.76,160.21 L280.83,160.72 L280.91,161.23 L280.99,161.73 L281.08,162.22 L281.17,162.69 L281.27,163.16 L281.37,163.62 L281.48,164.07 L281.60,164.50 L281.77,165.04 L281.96,165.55 L282.16,166.03 L282.37,166.50 L282.59,167.06 L282.82,167.27 L283.04,167.27 L283.27,167.94 L283.50,168.12 L283.72,169.13 L283.94,169.59 L284.14,170.07 L284.33,170.57 L284.50,171.10 L284.62,171.53 L284.74,171.97 L284.85,172.41 L284.95,172.87 L285.05,173.34 L285.14,173.81 L285.23,174.29 L285.31,174.78 L285.39,175.27 L285.47,175.77 L285.55,176.28 L285.62,176.79 L285.69,177.30 L285.76,177.82 L285.83,178.34 L285.89,178.86 L285.96,179.38 L286.03,179.90 L286.10,180.42 L286.17,180.95 L286.25,181.47 L286.32,181.98 L286.40,182.50 L286.48,182.99 L286.55,183.48 L286.63,183.98 L286.70,184.48 L286.77,184.98 L286.85,185.48 L286.92,185.98 L287.00,186.49 L287.07,186.99 L287.14,187.50 L287.21,188.01 L287.29,188.52 L287.36,189.04 L287.43,189.55 L287.50,190.06 L287.58,190.57 L287.65,191.09 L287.72,191.60 L287.79,192.12 L287.87,192.63 L287.94,193.14 L288.01,193.66 L288.08,194.17 L288.15,194.68 L288.23,195.19 L288.30,195.70 L288.37,196.23 L288.43,196.78 L288.48,197.36 L288.52,197.95 L288.56,198.57 L288.60,199.19 L288.63,199.83 L288.66,200.47 L288.69,201.12 L288.72,201.76 L288.75,202.40 L288.78,203.03 L288.82,203.65 L288.86,204.26 L288.91,204.84 L288.96,205.41 L289.03,205.94 L289.10,206.45 L289.19,206.92 L289.29,207.36 L289.40,207.75 L289.53,208.11 L289.67,208.55 L289.83,208.70 L290.00,208.76 L290.20,208.64 L290.56,208.35 L290.97,208.80 L291.41,208.99 L291.88,208.94 L292.38,208.95 L292.89,208.32 L293.40,207.94 L293.92,207.06 L294.42,206.34 L294.90,206.64 L295.34,206.86 L295.81,206.53 L296.29,206.68 L296.78,205.80 L297.27,204.92 L297.76,204.69 L298.22,204.23 L298.67,204.47 L299.07,204.43 L299.44,204.08 L299.75,204.09 L300.00,203.94 L300.34,202.77 L300.51,202.24 L300.70,201.50 L300.77,201.24 L300.85,200.96 L300.93,200.65 L301.02,200.31 L301.10,199.96 L301.20,199.58 L301.29,199.18 L301.38,198.77 L301.48,198.33 L301.58,197.88 L301.69,197.41 L301.79,196.92 L301.89,196.42 L302.00,195.91 L302.11,195.39 L302.22,194.85 L302.33,194.31 L302.44,193.76 L302.55,193.19 L302.66,192.63 L302.77,192.05 L302.88,191.47 L302.98,190.89 L303.09,190.31 L303.20,189.72 L303.31,189.13 L303.41,188.55 L303.51,187.96 L303.62,187.38 L303.72,186.80 L303.81,186.23 L303.91,185.66 L304.00,185.10 L304.07,184.65 L304.14,184.20 L304.21,183.75 L304.28,183.29 L304.35,182.83 L304.42,182.36 L304.48,181.89 L304.55,181.41 L304.61,180.93 L304.68,180.45 L304.74,179.97 L304.81,179.48 L304.87,178.99 L304.93,178.49 L304.99,178.00 L305.05,177.50 L305.11,176.99 L305.17,176.49 L305.23,175.98 L305.29,175.47 L305.35,174.96 L305.41,174.45 L305.47,173.94 L305.53,173.42 L305.59,172.90 L305.65,172.38 L305.71,171.87 L305.76,171.34 L305.82,170.82 L305.88,170.30 L305.94,169.78 L306.00,169.26 L306.06,168.73 L306.12,168.21 L306.18,167.68 L306.24,167.16 L306.30,166.64 L306.37,166.11 L306.43,165.59 L306.49,165.07 L306.55,164.55 L306.62,164.03 L306.68,163.51 L306.75,162.99 L306.81,162.47 L306.88,161.96 L306.95,161.44 L307.02,160.93 L307.09,160.42 L307.16,159.91 L307.23,159.40 L307.30,158.90 L307.37,158.40 L307.45,157.90 L307.52,157.40 L307.59,156.89 L307.67,156.38 L307.74,155.87 L307.82,155.35 L307.90,154.83 L307.97,154.31 L308.05,153.79 L308.13,153.26 L308.21,152.74 L308.29,152.21 L308.37,151.68 L308.45,151.15 L308.53,150.62 L308.61,150.09 L308.69,149.56 L308.78,149.03 L308.86,148.50 L308.94,147.97 L309.02,147.44 L309.11,146.92 L309.19,146.39 L309.27,145.86 L309.36,145.34 L309.44,144.82 L309.53,144.30 L309.61,143.78 L309.69,143.27 L309.78,142.76 L309.86,142.25 L309.95,141.75 L310.03,141.25 L310.12,140.75 L310.20,140.25 L310.28,139.77 L310.37,139.28 L310.45,138.80 L310.54,138.33 L310.62,137.86 L310.70,137.39 L310.79,136.93 L310.87,136.48 L310.95,136.03 L311.03,135.59 L311.12,135.16 L311.20,134.73 L311.28,134.31 L311.36,133.89 L311.44,133.49 L311.52,133.09 L311.60,132.70 L311.72,132.08 L311.85,131.44 L311.98,130.79 L312.10,130.13 L312.23,129.45 L312.36,128.78 L312.48,128.11 L312.61,127.45 L312.74,126.80 L312.87,126.17 L312.99,125.57 L313.12,124.99 L313.24,124.44 L313.36,123.93 L313.49,123.47 L313.61,123.05 L313.73,122.68 L313.85,122.37 L313.96,122.60 L314.08,122.47 L314.19,122.55 L314.30,122.24 L314.38,122.27 L314.45,122.36 L314.53,122.59 L314.60,122.20 L314.68,122.41 L314.75,122.66 L314.82,122.96 L314.89,123.28 L314.96,123.65 L315.03,124.05 L315.09,124.47 L315.16,124.93 L315.22,125.42 L315.29,125.93 L315.35,126.47 L315.42,127.03 L315.48,127.60 L315.54,128.20 L315.61,128.81 L315.67,129.44 L315.73,130.08 L315.79,130.73 L315.85,131.39 L315.91,132.06 L315.97,132.73 L316.03,133.41 L316.09,134.09 L316.16,134.77 L316.22,135.44 L316.28,136.11 L316.34,136.78 L316.40,137.43 L316.46,138.08 L316.52,138.72 L316.58,139.34 L316.65,139.94 L316.71,140.53 L316.77,141.10 L316.84,141.65 L316.90,142.18 L316.97,142.68 L317.03,143.15 L317.10,143.60 L317.19,144.19 L317.28,144.80 L317.37,145.44 L317.46,146.09 L317.55,146.75 L317.64,147.42 L317.73,148.09 L317.83,148.76 L317.92,149.42 L318.01,150.07 L318.10,150.71 L318.19,151.33 L318.29,151.92 L318.38,152.48 L318.47,153.02 L318.56,153.51 L318.66,153.97 L318.75,154.37 L318.84,154.73 L318.93,155.03 L319.02,155.27 L319.12,154.88 L319.21,154.88 L319.30,155.29 L319.39,155.10 L319.48,154.82 L319.57,155.24 L319.65,154.98 L319.74,154.65 L319.82,154.27 L319.91,153.83 L319.99,153.35 L320.08,152.83 L320.16,152.27 L320.24,151.67 L320.33,151.06 L320.42,150.42 L320.50,149.76 L320.59,149.10 L320.68,148.44 L320.78,147.77 L320.87,147.11 L320.97,146.47 L321.07,145.84 L321.17,145.23 L321.28,144.65 L321.39,144.11 L321.50,143.60 L321.62,143.08 L321.75,142.54 L321.89,141.99 L322.02,141.42 L322.16,140.85 L322.31,140.27 L322.45,139.68 L322.60,139.10 L322.75,138.52 L322.90,137.95 L323.05,137.39 L323.21,136.83 L323.36,136.30 L323.52,135.78 L323.67,135.29 L323.82,134.82 L323.97,134.38 L324.12,133.97 L324.27,133.59 L324.42,133.25 L324.56,133.61 L324.70,133.40 L325.08,132.61 L325.46,132.27 L325.80,131.80 L325.91,131.76 L326.02,131.94 L326.11,132.29 L326.20,132.74 L326.28,133.27 L326.35,133.87 L326.42,134.53 L326.48,135.23 L326.53,135.96 L326.59,136.69 L326.64,137.43 L326.69,138.15 L326.75,138.84 L326.80,139.48 L326.86,140.07 L326.91,140.58 L326.98,141.00 L327.05,141.32 L327.12,141.03 L327.20,140.99 L327.29,141.39 L327.37,141.35 L327.46,141.06 L327.54,140.68 L327.62,140.21 L327.70,139.67 L327.78,139.07 L327.87,138.43 L327.96,137.76 L328.06,137.08 L328.16,136.38 L328.26,135.70 L328.38,135.04 L328.50,134.41 L328.63,133.83 L328.78,133.31 L328.93,132.86 L329.10,132.89 L329.41,131.87 L329.75,131.19 L330.12,130.64 L330.50,130.12 L330.90,130.37 L331.30,130.52 L331.76,130.80 L332.25,130.92 L332.76,131.24 L333.26,131.09 L333.75,131.51 L334.20,131.67 L334.56,132.42 L334.91,133.03 L335.25,133.88 L335.58,134.60 L335.88,134.80 L336.18,135.12 L336.45,135.66 L336.70,135.73 L336.94,136.49 L337.15,136.97 L337.33,137.44 L337.50,137.92 L337.69,138.40 L337.90,138.90 L338.12,139.10 L338.35,139.51 L338.60,140.10 L338.85,140.97 L339.11,141.77 L339.36,141.54 L339.59,142.08 L339.80,142.70 L339.90,143.04 L339.99,143.40 L340.08,143.78 L340.16,144.17 L340.24,144.58 L340.32,145.01 L340.39,145.45 L340.46,145.90 L340.52,146.37 L340.58,146.85 L340.65,147.34 L340.70,147.85 L340.76,148.36 L340.81,148.88 L340.87,149.41 L340.92,149.95 L340.97,150.49 L341.02,151.04 L341.07,151.60 L341.12,152.16 L341.17,152.72 L341.23,153.28 L341.28,153.85 L341.33,154.42 L341.39,154.99 L341.45,155.55 L341.51,156.12 L341.57,156.68 L341.63,157.24 L341.70,157.80 L341.76,158.26 L341.81,158.72 L341.87,159.18 L341.93,159.65 L341.99,160.13 L342.04,160.61 L342.10,161.10 L342.16,161.59 L342.22,162.08 L342.28,162.57 L342.34,163.07 L342.40,163.58 L342.46,164.08 L342.52,164.59 L342.58,165.10 L342.64,165.61 L342.70,166.13 L342.76,166.65 L342.83,167.17 L342.89,167.69 L342.95,168.21 L343.01,168.73 L343.08,169.25 L343.14,169.78 L343.20,170.30 L343.26,170.82 L343.33,171.35 L343.39,171.87 L343.46,172.39 L343.52,172.91 L343.58,173.44 L343.65,173.96 L343.71,174.47 L343.78,174.99 L343.84,175.51 L343.91,176.02 L343.97,176.53 L344.04,177.04 L344.10,177.54 L344.17,178.04 L344.24,178.54 L344.30,179.04 L344.37,179.53 L344.43,180.02 L344.50,180.50 L344.57,181.02 L344.65,181.55 L344.72,182.07 L344.79,182.60 L344.87,183.13 L344.94,183.66 L345.02,184.19 L345.10,184.71 L345.17,185.24 L345.25,185.77 L345.33,186.30 L345.41,186.82 L345.48,187.35 L345.56,187.87 L345.64,188.39 L345.72,188.92 L345.80,189.43 L345.88,189.95 L345.95,190.47 L346.03,190.98 L346.11,191.49 L346.19,191.99 L346.27,192.49 L346.35,192.99 L346.42,193.49 L346.50,193.98 L346.58,194.47 L346.66,194.95 L346.73,195.43 L346.81,195.91 L346.89,196.37 L346.96,196.84 L347.04,197.30 L347.11,197.75 L347.18,198.20 L347.26,198.64 L347.33,199.07 L347.40,199.50 L347.50,200.09 L347.59,200.70 L347.68,201.33 L347.78,201.98 L347.87,202.64 L347.97,203.31 L348.06,203.97 L348.15,204.63 L348.24,205.27 L348.33,205.90 L348.42,206.50 L348.51,207.07 L348.60,207.60 L348.69,208.10 L348.78,208.54 L348.87,208.93 L348.96,209.27 L349.04,209.54 L349.13,209.90 L349.22,209.88 L349.30,209.93 L349.37,209.75 L349.45,209.84 L349.52,209.60 L349.60,209.37 L349.67,209.10 L349.74,208.77 L349.82,208.39 L349.89,207.97 L349.96,207.50 L350.03,207.00 L350.10,206.47 L350.18,205.90 L350.25,205.31 L350.32,204.70 L350.38,204.07 L350.45,203.42 L350.52,202.76 L350.59,202.09 L350.65,201.41 L350.72,200.73 L350.78,200.06 L350.85,199.39 L350.91,198.73 L350.97,198.09 L351.03,197.46 L351.09,196.85 L351.14,196.26 L351.20,195.70 L351.25,195.22 L351.29,194.74 L351.34,194.26 L351.38,193.76 L351.42,193.27 L351.47,192.77 L351.51,192.27 L351.55,191.76 L351.58,191.25 L351.62,190.73 L351.66,190.22 L351.69,189.70 L351.73,189.18 L351.76,188.66 L351.80,188.13 L351.83,187.61 L351.87,187.08 L351.90,186.56 L351.93,186.03 L351.96,185.50 L351.99,184.98 L352.02,184.45 L352.06,183.92 L352.09,183.40 L352.12,182.88 L352.15,182.35 L352.18,181.83 L352.21,181.32 L352.24,180.80 L352.27,180.29 L352.30,179.78 L352.34,179.27 L352.37,178.77 L352.40,178.27 L352.43,177.78 L352.47,177.29 L352.50,176.80 L352.54,176.26 L352.57,175.72 L352.61,175.17 L352.64,174.61 L352.68,174.05 L352.71,173.49 L352.75,172.93 L352.78,172.36 L352.81,171.80 L352.85,171.23 L352.88,170.67 L352.91,170.11 L352.95,169.56 L352.98,169.00 L353.01,168.46 L353.05,167.92 L353.08,167.39 L353.12,166.87 L353.15,166.35 L353.19,165.85 L353.22,165.36 L353.26,164.88 L353.30,164.41 L353.34,163.96 L353.38,163.52 L353.42,163.10 L353.46,162.70 L353.51,162.31 L353.55,161.95 L353.60,161.60 L353.71,160.92 L353.82,160.32 L353.93,159.79 L354.05,159.29 L354.17,158.81 L354.28,158.32 L354.40,157.80" stroke="#f85a5a" class="cv"/>
<path d="M13.50,136.20 L14.00,135.94 L14.50,136.61 L15.01,135.45 L15.52,136.59 L16.02,136.09 L16.53,136.16 L17.03,135.97 L17.54,136.81 L18.04,135.63 L18.53,135.99 L19.03,135.84 L19.52,135.48 L20.00,135.63 L20.53,136.78 L21.08,136.58 L21.63,136.42 L22.18,136.48 L22.72,135.31 L23.26,136.11 L23.78,136.28 L24.27,135.73 L24.75,136.12 L25.19,136.77 L25.60,135.79 L26.20,136.01 L26.71,134.88 L27.21,135.33 L27.80,134.83 L28.23,135.30 L28.70,135.29 L29.20,136.07 L29.72,135.93 L30.26,135.61 L30.81,135.91 L31.37,135.77 L31.92,136.58 L32.47,136.18 L33.00,136.76 L33.54,136.86 L34.11,136.53 L34.69,136.03 L35.29,136.28 L35.87,137.13 L36.43,136.82 L36.96,137.72 L37.44,137.46 L37.86,138.08 L38.20,138.00 L38.75,138.18 L39.20,138.34 L39.40,138.20 L39.61,139.23 L39.85,139.88 L40.10,140.56 L40.36,140.08 L40.63,140.50 L40.92,142.05 L41.20,142.01 L41.50,142.28 L41.79,142.85 L42.08,142.91 L42.37,143.57 L42.66,144.09 L42.93,144.55 L43.20,144.81 L43.40,145.59 L43.59,146.01 L43.79,146.44 L44.00,146.89 L44.20,147.35 L44.41,147.82 L44.61,148.31 L44.82,148.80 L45.02,149.31 L45.23,149.82 L45.43,150.33 L45.64,150.85 L45.84,151.36 L46.04,151.88 L46.24,152.40 L46.43,152.91 L46.63,153.41 L46.82,153.91 L47.00,154.40 L47.18,154.88 L47.36,155.35 L47.53,155.80 L47.70,156.24 L47.86,156.66 L48.01,157.06 L48.16,157.44 L48.30,157.80 L48.53,158.38 L48.73,158.90 L48.92,159.38 L49.10,159.83 L49.27,160.27 L49.43,160.71 L49.61,161.17 L49.80,161.66 L50.00,162.20 L50.16,162.62 L50.32,163.07 L50.48,163.53 L50.65,164.00 L50.82,164.49 L51.00,164.99 L51.17,165.50 L51.35,166.01 L51.54,166.53 L51.72,167.05 L51.91,167.57 L52.10,168.09 L52.30,168.61 L52.49,169.12 L52.69,169.62 L52.90,170.12 L53.10,170.60 L53.31,171.10 L53.53,171.59 L53.75,172.09 L53.98,172.59 L54.20,173.09 L54.43,173.59 L54.67,174.09 L54.90,174.58 L55.14,175.06 L55.38,175.16 L55.63,175.98 L55.88,176.67 L56.13,176.75 L56.38,177.18 L56.64,177.71 L56.90,178.57 L57.22,178.81 L57.55,179.27 L57.88,179.96 L58.21,180.08 L58.55,180.22 L58.90,180.86 L59.25,180.86 L59.60,181.49 L59.96,182.22 L60.33,182.37 L60.70,182.70 L61.16,183.38 L61.64,183.54 L62.13,184.11 L62.63,183.78 L63.13,184.45 L63.61,184.53 L64.07,185.13 L64.50,185.21 L65.02,185.58 L65.50,185.43 L65.98,185.28 L66.50,185.23 L66.95,185.28 L67.42,184.88 L67.91,184.73 L68.41,184.72 L68.92,184.30 L69.41,184.04 L69.90,183.67 L70.21,183.28 L70.53,182.91 L70.84,182.34 L71.15,181.81 L71.46,181.46 L71.77,181.32 L72.08,180.90 L72.38,180.78 L72.69,180.21 L72.99,180.08 L73.30,179.51 L73.60,179.04 L73.90,178.54 L74.20,177.88 L74.50,177.31 L74.79,176.78 L75.07,176.21 L75.34,176.26 L75.62,175.73 L75.89,175.15 L76.16,175.31 L76.42,174.76 L76.69,174.41 L76.96,173.89 L77.24,173.26 L77.52,173.30 L77.80,172.28 L78.09,171.87 L78.38,171.71 L78.69,170.66 L79.00,170.40 L79.26,170.02 L79.53,169.54 L79.81,169.62 L80.09,169.00 L80.37,168.43 L80.66,168.35 L80.95,167.68 L81.25,167.67 L81.55,167.28 L81.86,166.79 L82.16,165.75 L82.47,165.61 L82.77,164.91 L83.08,164.56 L83.39,164.07 L83.70,163.71 L84.01,163.27 L84.31,163.24 L84.62,162.56 L84.92,162.70 L85.22,161.73 L85.52,161.82 L85.81,160.87 L86.10,160.32 L86.41,160.19 L86.72,159.57 L87.03,159.27 L87.33,158.71 L87.64,158.42 L87.94,157.75 L88.24,157.78 L88.54,157.33 L88.83,157.23 L89.13,156.24 L89.43,155.83 L89.73,155.71 L90.03,155.36 L90.33,154.56 L90.64,154.27 L90.94,153.76 L91.25,153.28 L91.57,153.00 L91.88,152.80 L92.20,152.18 L92.55,152.04 L92.90,151.95 L93.26,151.26 L93.61,150.93 L93.97,150.31 L94.33,149.89 L94.69,149.62 L95.05,149.28 L95.42,149.09 L95.79,148.54 L96.16,148.14 L96.53,147.98 L96.90,147.52 L97.27,147.28 L97.65,147.09 L98.02,146.67 L98.40,146.03 L98.82,145.57 L99.25,145.19 L99.67,144.99 L100.10,144.98 L100.53,144.62 L100.96,144.73 L101.39,144.19 L101.83,143.65 L102.27,143.28 L102.71,142.68 L103.15,142.82 L103.60,142.66 L104.05,142.34 L104.50,142.48 L104.99,142.06 L105.50,141.79 L106.00,141.49 L106.52,141.18 L107.03,141.24 L107.55,141.22 L108.07,141.32 L108.58,140.99 L109.10,141.35 L109.61,141.02 L110.11,140.75 L110.60,140.64 L111.13,140.53 L111.65,140.49 L112.17,140.80 L112.69,141.13 L113.20,141.24 L113.71,141.31 L114.22,140.74 L114.72,141.04 L115.21,140.91 L115.70,140.84 L116.14,140.96 L116.58,140.34 L117.00,140.50 L117.42,140.22 L117.83,139.32 L118.24,139.13 L118.65,138.88 L119.07,138.10 L119.49,138.13 L119.91,137.93 L120.35,137.46 L120.80,137.08 L121.24,136.85 L121.69,136.88 L122.15,136.25 L122.61,135.82 L123.08,135.63 L123.55,135.76 L124.03,135.26 L124.51,135.03 L124.99,135.43 L125.47,134.78 L125.94,134.48 L126.42,134.47 L126.90,133.77 L127.37,133.48 L127.84,133.87 L128.31,133.43 L128.78,133.32 L129.26,133.55 L129.73,132.83 L130.21,132.90 L130.68,132.26 L131.16,132.04 L131.64,131.89 L132.12,132.04 L132.61,131.99 L133.10,131.74 L133.58,131.54 L134.07,131.08 L134.56,131.07 L135.05,130.88 L135.54,130.64 L136.04,130.63 L136.54,130.12 L137.04,130.08 L137.54,129.80 L138.03,129.44 L138.53,129.61 L139.02,129.36 L139.51,129.26 L140.00,129.03 L140.52,128.76 L141.02,128.87 L141.52,128.45 L142.01,128.70 L142.50,128.06 L143.00,127.91 L143.49,128.26 L144.00,127.85 L144.52,128.32 L145.06,127.91 L145.62,127.92 L146.20,127.30 L146.64,127.59 L147.09,127.17 L147.55,127.12 L148.03,127.35 L148.51,127.36 L149.00,127.12 L149.50,126.89 L150.00,126.93 L150.51,126.36 L151.03,126.73 L151.55,126.39 L152.08,126.35 L152.61,126.50 L153.14,126.32 L153.68,126.26 L154.21,126.16 L154.75,125.88 L155.28,125.77 L155.82,125.80 L156.35,126.01 L156.88,126.22 L157.40,125.92 L157.90,125.94 L158.41,125.57 L158.92,125.23 L159.43,125.25 L159.94,125.75 L160.46,125.64 L160.98,125.60 L161.50,125.58 L162.02,125.60 L162.54,125.14 L163.07,125.05 L163.59,125.10 L164.11,125.02 L164.63,125.45 L165.15,125.42 L165.67,125.32 L166.19,125.13 L166.70,125.02 L167.21,125.15 L167.72,124.94 L168.22,125.59 L168.72,125.20 L169.21,125.68 L169.70,125.20 L170.23,125.45 L170.75,125.07 L171.27,125.03 L171.78,125.50 L172.29,125.91 L172.79,126.11 L173.29,126.22 L173.79,126.27 L174.29,125.67 L174.78,125.87 L175.27,125.83 L175.77,126.44 L176.26,126.52 L176.76,126.91 L177.26,127.04 L177.76,127.15 L178.26,126.90 L178.77,126.99 L179.28,126.88 L179.80,126.79 L180.30,127.48 L180.81,127.15 L181.34,127.18 L181.87,127.54 L182.41,127.08 L182.96,127.27 L183.51,126.98 L184.06,127.28 L184.62,127.76 L185.17,127.41 L185.71,127.61 L186.26,127.72 L186.79,127.20 L187.32,127.53 L187.83,127.70 L188.34,127.80 L188.83,128.01 L189.30,127.98 L189.76,127.49 L190.19,127.49 L190.61,127.62 L191.00,127.88 L191.59,127.57 L192.12,127.99 L192.60,127.89 L193.06,128.41 L193.51,128.17 L193.97,128.15 L194.46,128.17 L195.00,127.88 L195.44,128.37 L195.90,128.64 L196.37,128.93 L196.86,128.79 L197.36,128.86 L197.86,128.83 L198.38,129.25 L198.90,129.03 L199.42,129.18 L199.94,129.53 L200.46,129.92 L200.98,129.88 L201.49,129.94 L202.00,130.16 L202.50,130.11 L203.01,129.83 L203.52,129.81 L204.04,130.51 L204.55,130.57 L205.07,130.57 L205.58,130.41 L206.10,130.63 L206.60,130.23 L207.10,130.12 L207.59,130.20 L208.07,130.58 L208.54,130.97 L209.00,131.02 L209.48,131.51 L209.94,131.46 L210.40,131.50 L210.84,131.87 L211.27,132.19 L211.70,132.63 L212.13,133.01 L212.54,133.44 L212.96,133.72 L213.37,134.09 L213.79,133.74 L214.20,134.01 L214.66,133.53 L215.10,133.64 L215.55,132.96 L215.98,132.98 L216.42,132.70 L216.85,132.56 L217.29,131.88 L217.72,131.53 L218.16,131.12 L218.60,131.18 L219.09,131.19 L219.58,131.07 L220.08,131.56 L220.57,132.00 L221.07,132.82 L221.56,132.78 L222.05,133.03 L222.53,133.01 L223.00,133.40 L223.51,133.71 L224.02,133.88 L224.53,133.70 L225.02,134.09 L225.50,134.17 L225.97,133.92 L226.40,134.46 L226.83,134.42 L227.24,134.80 L227.62,135.51 L227.98,136.06 L228.33,136.59 L228.67,137.35 L229.00,137.61 L229.33,137.91 L229.63,138.08 L229.92,138.70 L230.20,138.92 L230.50,139.39 L230.80,139.72 L231.03,139.89 L231.26,140.33 L231.50,140.86 L231.73,141.31 L231.97,142.29 L232.22,142.66 L232.46,142.99 L232.72,143.81 L232.97,144.27 L233.23,144.42 L233.50,145.29 L233.71,145.42 L233.93,145.90 L234.15,146.42 L234.38,146.97 L234.61,147.55 L234.85,148.14 L235.08,148.74 L235.32,149.34 L235.56,149.92 L235.81,150.49 L236.05,151.02 L236.29,151.43 L236.53,152.40 L236.77,152.31 L237.01,152.72 L237.24,152.92 L237.47,153.41 L237.70,153.38 L237.98,153.09 L238.25,152.54 L238.52,152.31 L238.79,152.00 L239.05,151.56 L239.32,151.00 L239.58,150.40 L239.85,149.79 L240.13,149.18 L240.41,148.46 L240.70,148.50 L241.00,148.00 L241.30,147.60 L241.62,146.91 L241.94,146.26 L242.27,145.85 L242.60,144.83 L242.94,144.33 L243.28,143.78 L243.61,143.47 L243.94,143.61 L244.27,143.03 L244.59,143.34 L244.90,143.14 L245.18,143.50 L245.46,143.57 L245.73,143.74 L245.99,144.12 L246.25,143.99 L246.51,144.54 L246.77,145.35 L247.03,145.91 L247.28,146.49 L247.54,147.07 L247.80,147.64 L248.06,148.20 L248.33,148.74 L248.60,149.32 L248.87,149.96 L249.14,150.58 L249.41,150.98 L249.69,151.57 L249.96,151.90 L250.24,152.16 L250.52,152.72 L250.80,153.35 L251.08,153.88 L251.36,154.12 L251.65,154.61 L251.93,155.24 L252.22,155.43 L252.51,156.17 L252.80,155.89 L253.29,156.41 L253.78,156.17 L254.27,155.73 L254.78,155.78 L255.30,155.81 L255.69,156.37 L256.08,156.73 L256.48,157.01 L256.88,157.64 L257.30,158.05 L257.72,157.95 L258.14,158.62 L258.58,158.86 L259.04,159.20 L259.50,159.31 L259.98,159.31 L260.48,159.32 L261.00,159.57 L261.53,159.11 L262.07,159.13 L262.60,158.74 L263.13,158.74 L263.64,158.48 L264.14,158.61 L264.60,159.20 L265.01,159.30 L265.42,159.35 L265.82,159.68 L266.21,159.85 L266.59,160.29 L266.96,160.61 L267.31,160.96 L267.65,161.91 L267.97,162.42 L268.27,162.89 L268.55,163.11 L268.80,163.51 L269.06,164.30 L269.26,164.42 L269.43,164.87 L269.57,165.32 L269.72,165.79 L269.87,166.27 L270.06,166.77 L270.30,167.30 L270.49,167.73 L270.71,168.00 L270.96,168.14 L271.22,168.90 L271.50,169.28 L271.79,169.74 L272.09,170.44 L272.40,170.92 L272.70,171.59 L273.01,172.16 L273.31,172.75 L273.61,172.64 L273.89,173.30 L274.16,173.90 L274.40,174.09 L274.63,174.41 L274.83,174.93 L275.00,175.30 L275.21,175.83 L275.38,176.31 L275.50,176.75 L275.61,177.19 L275.72,177.64 L275.84,178.14 L276.00,178.70 L276.11,179.08 L276.24,179.48 L276.37,179.90 L276.50,180.34 L276.65,180.80 L276.79,181.26 L276.94,181.74 L277.10,182.24 L277.26,182.74 L277.42,183.26 L277.58,183.78 L277.74,184.31 L277.90,184.84 L278.05,185.38 L278.21,185.92 L278.36,186.47 L278.51,187.01 L278.66,187.56 L278.80,188.10 L278.91,188.55 L279.02,189.02 L279.12,189.49 L279.22,189.98 L279.32,190.47 L279.42,190.97 L279.51,191.48 L279.60,191.99 L279.69,192.51 L279.78,193.03 L279.87,193.55 L279.96,194.07 L280.05,194.59 L280.14,195.12 L280.23,195.64 L280.33,196.16 L280.42,196.67 L280.52,197.18 L280.62,197.69 L280.73,198.18 L280.84,198.67 L280.95,199.16 L281.07,199.63 L281.19,200.09 L281.32,200.54 L281.46,200.98 L281.60,201.40 L281.80,201.94 L282.02,202.46 L282.24,202.96 L282.48,203.51 L282.73,203.44 L282.98,204.33 L283.23,204.69 L283.49,205.15 L283.75,205.49 L284.00,206.20 L284.26,206.43 L284.50,207.19 L284.74,207.50 L284.97,207.98 L285.19,208.48 L285.40,209.00 L285.56,209.44 L285.72,209.89 L285.87,210.35 L286.02,210.82 L286.16,211.29 L286.30,211.77 L286.44,212.26 L286.57,212.75 L286.70,213.25 L286.83,213.75 L286.95,214.26 L287.07,214.77 L287.19,215.28 L287.31,215.79 L287.43,216.30 L287.54,216.81 L287.65,217.31 L287.76,217.82 L287.87,218.33 L287.98,218.83 L288.09,219.32 L288.19,219.81 L288.30,220.30 L288.40,220.82 L288.49,221.35 L288.57,221.91 L288.65,222.48 L288.71,223.06 L288.77,223.64 L288.82,224.23 L288.88,224.82 L288.93,225.40 L288.98,225.98 L289.04,226.54 L289.10,227.09 L289.17,227.62 L289.25,228.12 L289.34,228.60 L289.44,229.05 L289.56,229.46 L289.69,229.84 L289.84,230.08 L290.01,230.72 L290.20,230.82 L290.69,230.88 L291.24,231.25 L291.83,231.25 L292.46,231.54 L293.10,231.39 L293.61,231.73 L294.17,231.48 L294.74,231.30 L295.33,230.82 L295.91,231.28 L296.47,230.80 L297.01,230.99 L297.50,230.63 L297.89,230.02 L298.25,229.85 L298.60,229.74 L298.94,229.21 L299.26,228.68 L299.56,228.64 L299.86,228.01 L300.15,227.95 L300.43,227.22 L300.70,226.60 L300.84,226.28 L300.98,225.94 L301.11,225.59 L301.24,225.21 L301.36,224.82 L301.48,224.42 L301.59,224.00 L301.70,223.56 L301.81,223.11 L301.91,222.65 L302.01,222.18 L302.11,221.69 L302.20,221.20 L302.30,220.69 L302.38,220.18 L302.47,219.66 L302.56,219.13 L302.64,218.59 L302.72,218.04 L302.80,217.50 L302.88,216.94 L302.96,216.38 L303.04,215.82 L303.11,215.26 L303.19,214.69 L303.27,214.13 L303.35,213.56 L303.42,212.99 L303.50,212.43 L303.58,211.87 L303.66,211.30 L303.74,210.75 L303.83,210.19 L303.91,209.64 L304.00,209.10 L304.07,208.64 L304.15,208.17 L304.22,207.71 L304.29,207.24 L304.36,206.77 L304.44,206.29 L304.51,205.81 L304.58,205.34 L304.64,204.85 L304.71,204.37 L304.78,203.88 L304.85,203.40 L304.92,202.91 L304.98,202.41 L305.05,201.92 L305.11,201.42 L305.18,200.93 L305.25,200.43 L305.31,199.93 L305.38,199.42 L305.44,198.92 L305.51,198.42 L305.57,197.91 L305.64,197.40 L305.70,196.90 L305.77,196.39 L305.83,195.88 L305.90,195.37 L305.96,194.86 L306.03,194.34 L306.10,193.83 L306.16,193.32 L306.23,192.80 L306.30,192.29 L306.37,191.78 L306.43,191.26 L306.50,190.75 L306.57,190.23 L306.64,189.72 L306.71,189.20 L306.78,188.69 L306.85,188.17 L306.93,187.66 L307.00,187.15 L307.07,186.63 L307.15,186.12 L307.22,185.61 L307.30,185.10 L307.37,184.61 L307.45,184.12 L307.52,183.62 L307.60,183.12 L307.67,182.61 L307.75,182.10 L307.82,181.59 L307.90,181.07 L307.97,180.54 L308.05,180.02 L308.13,179.49 L308.21,178.96 L308.29,178.43 L308.36,177.89 L308.44,177.35 L308.52,176.82 L308.60,176.28 L308.68,175.74 L308.76,175.20 L308.84,174.66 L308.92,174.12 L309.00,173.58 L309.09,173.04 L309.17,172.51 L309.25,171.97 L309.33,171.44 L309.41,170.91 L309.50,170.38 L309.58,169.86 L309.66,169.33 L309.74,168.81 L309.83,168.30 L309.91,167.79 L309.99,167.28 L310.08,166.78 L310.16,166.28 L310.25,165.79 L310.33,165.31 L310.41,164.83 L310.50,164.35 L310.58,163.88 L310.67,163.42 L310.75,162.97 L310.84,162.52 L310.92,162.09 L311.01,161.66 L311.09,161.24 L311.18,160.82 L311.26,160.42 L311.35,160.02 L311.43,159.64 L311.52,159.26 L311.60,158.90 L311.75,158.27 L311.90,157.62 L312.05,156.96 L312.20,156.30 L312.36,155.63 L312.51,154.98 L312.67,154.34 L312.83,153.72 L312.98,153.13 L313.14,152.58 L313.29,152.07 L313.44,151.60 L313.59,151.19 L313.74,150.84 L313.89,150.35 L314.03,150.63 L314.17,149.93 L314.30,149.96 L314.39,150.28 L314.48,149.95 L314.56,150.32 L314.65,150.62 L314.73,150.84 L314.81,151.10 L314.89,151.41 L314.97,151.75 L315.05,152.12 L315.13,152.53 L315.20,152.97 L315.28,153.44 L315.35,153.94 L315.43,154.46 L315.50,155.00 L315.57,155.57 L315.64,156.16 L315.71,156.76 L315.78,157.38 L315.85,158.01 L315.92,158.65 L315.98,159.31 L316.05,159.96 L316.12,160.63 L316.18,161.30 L316.25,161.96 L316.31,162.63 L316.38,163.29 L316.45,163.95 L316.51,164.60 L316.58,165.25 L316.64,165.88 L316.71,166.49 L316.77,167.09 L316.84,167.68 L316.90,168.24 L316.97,168.79 L317.03,169.31 L317.10,169.80 L317.17,170.33 L317.24,170.89 L317.31,171.47 L317.38,172.07 L317.45,172.68 L317.52,173.31 L317.59,173.95 L317.65,174.61 L317.72,175.26 L317.79,175.92 L317.85,176.59 L317.92,177.25 L317.98,177.91 L318.05,178.56 L318.11,179.20 L318.18,179.83 L318.24,180.44 L318.31,181.04 L318.37,181.62 L318.44,182.18 L318.50,182.71 L318.57,183.21 L318.63,183.69 L318.70,184.13 L318.76,184.54 L318.83,184.90 L318.89,185.23 L318.96,185.52 L319.03,185.75 L319.10,185.94 L319.16,186.11 L319.23,186.04 L319.30,185.93 L319.38,186.15 L319.45,186.09 L319.53,185.87 L319.61,185.62 L319.69,185.31 L319.77,184.94 L319.85,184.52 L319.93,184.06 L320.01,183.55 L320.09,183.01 L320.17,182.43 L320.25,181.82 L320.33,181.19 L320.41,180.54 L320.49,179.87 L320.57,179.20 L320.65,178.52 L320.73,177.84 L320.81,177.16 L320.89,176.49 L320.97,175.84 L321.05,175.20 L321.13,174.58 L321.20,173.99 L321.28,173.44 L321.35,172.92 L321.43,172.43 L321.50,172.00 L321.60,171.41 L321.70,170.85 L321.79,170.31 L321.88,169.79 L321.97,169.29 L322.05,168.80 L322.14,168.32 L322.23,167.85 L322.33,167.37 L322.43,166.89 L322.54,166.41 L322.67,165.91 L322.80,165.40 L322.93,164.91 L323.07,164.36 L323.23,163.78 L323.39,163.16 L323.56,162.53 L323.73,161.89 L323.91,161.26 L324.09,160.65 L324.27,160.07 L324.45,159.52 L324.62,159.04 L324.80,158.61 L324.96,158.51 L325.12,158.28 L325.26,157.92 L325.40,157.91 L325.50,158.30 L325.60,158.04 L325.69,158.31 L325.78,158.67 L325.86,159.11 L325.94,159.62 L326.02,160.19 L326.10,160.82 L326.17,161.49 L326.24,162.20 L326.31,162.93 L326.37,163.68 L326.43,164.43 L326.50,165.19 L326.56,165.94 L326.62,166.67 L326.68,167.37 L326.73,168.04 L326.79,168.66 L326.85,169.23 L326.91,169.73 L326.96,170.17 L327.02,170.52 L327.08,170.78 L327.14,171.03 L327.20,170.51 L327.26,170.58 L327.32,170.80 L327.37,170.57 L327.42,170.26 L327.46,169.88 L327.50,169.43 L327.54,168.93 L327.58,168.38 L327.62,167.78 L327.66,167.15 L327.70,166.50 L327.74,165.82 L327.79,165.14 L327.84,164.45 L327.89,163.76 L327.95,163.09 L328.02,162.43 L328.10,161.80 L328.18,161.21 L328.28,160.65 L328.38,160.15 L328.50,159.70 L328.67,159.13 L328.86,158.57 L329.06,158.02 L329.27,157.49 L329.49,156.97 L329.72,156.47 L329.96,155.84 L330.21,155.65 L330.47,154.79 L330.74,154.32 L331.01,154.30 L331.30,153.62 L331.75,153.74 L332.23,153.12 L332.73,153.11 L333.24,152.76 L333.74,152.12 L334.20,152.31 L334.54,152.13 L334.88,152.21 L335.20,152.44 L335.52,153.30 L335.83,153.78 L336.13,154.23 L336.43,155.16 L336.72,155.38 L337.00,156.07 L337.20,156.23 L337.40,156.68 L337.60,157.08 L337.79,157.50 L337.97,157.92 L338.16,158.36 L338.33,158.81 L338.51,159.28 L338.68,159.75 L338.85,160.24 L339.01,160.75 L339.17,161.27 L339.33,161.80 L339.49,162.35 L339.65,162.92 L339.80,163.50 L339.90,163.89 L339.99,164.29 L340.09,164.70 L340.18,165.12 L340.27,165.55 L340.36,165.98 L340.44,166.43 L340.53,166.89 L340.61,167.35 L340.69,167.82 L340.77,168.30 L340.85,168.79 L340.93,169.28 L341.00,169.78 L341.08,170.28 L341.15,170.79 L341.23,171.31 L341.30,171.82 L341.37,172.34 L341.44,172.87 L341.51,173.40 L341.58,173.93 L341.65,174.46 L341.72,174.99 L341.79,175.53 L341.86,176.06 L341.93,176.60 L342.00,177.14 L342.06,177.67 L342.13,178.21 L342.20,178.74 L342.27,179.27 L342.34,179.80 L342.41,180.33 L342.48,180.85 L342.55,181.37 L342.63,181.89 L342.70,182.40 L342.77,182.90 L342.84,183.40 L342.91,183.90 L342.98,184.40 L343.05,184.91 L343.12,185.42 L343.19,185.93 L343.25,186.44 L343.32,186.96 L343.39,187.48 L343.46,187.99 L343.52,188.51 L343.59,189.03 L343.66,189.55 L343.72,190.08 L343.79,190.60 L343.85,191.12 L343.92,191.64 L343.99,192.16 L344.05,192.68 L344.12,193.20 L344.18,193.72 L344.25,194.24 L344.32,194.76 L344.38,195.28 L344.45,195.79 L344.52,196.30 L344.58,196.82 L344.65,197.32 L344.72,197.83 L344.79,198.34 L344.86,198.84 L344.93,199.34 L345.00,199.83 L345.07,200.32 L345.14,200.81 L345.21,201.30 L345.28,201.78 L345.35,202.26 L345.43,202.73 L345.50,203.20 L345.59,203.75 L345.68,204.30 L345.77,204.86 L345.86,205.42 L345.95,205.98 L346.04,206.54 L346.13,207.10 L346.23,207.66 L346.32,208.22 L346.41,208.77 L346.51,209.33 L346.60,209.88 L346.70,210.42 L346.79,210.97 L346.89,211.50 L346.98,212.03 L347.08,212.56 L347.18,213.07 L347.27,213.58 L347.37,214.08 L347.46,214.56 L347.56,215.04 L347.65,215.51 L347.75,215.96 L347.84,216.40 L347.93,216.83 L348.03,217.25 L348.12,217.65 L348.21,218.03 L348.30,218.40 L348.47,219.10 L348.65,219.82 L348.82,220.53 L349.00,221.21 L349.17,221.83 L349.34,222.35 L349.50,222.76 L349.65,223.03 L349.80,223.39 L349.88,223.09 L349.96,222.94 L350.03,222.75 L350.10,222.50 L350.17,222.19 L350.24,221.83 L350.30,221.41 L350.36,220.95 L350.42,220.45 L350.47,219.91 L350.53,219.33 L350.58,218.73 L350.63,218.10 L350.68,217.45 L350.74,216.79 L350.79,216.11 L350.84,215.43 L350.89,214.74 L350.94,214.06 L350.99,213.38 L351.04,212.71 L351.09,212.05 L351.14,211.41 L351.20,210.80 L351.24,210.38 L351.28,209.95 L351.31,209.50 L351.35,209.05 L351.39,208.58 L351.43,208.11 L351.46,207.63 L351.50,207.14 L351.54,206.64 L351.57,206.13 L351.61,205.62 L351.64,205.10 L351.68,204.58 L351.71,204.05 L351.75,203.51 L351.78,202.98 L351.82,202.43 L351.85,201.89 L351.89,201.34 L351.92,200.79 L351.96,200.24 L351.99,199.68 L352.03,199.13 L352.06,198.58 L352.10,198.02 L352.13,197.47 L352.16,196.92 L352.20,196.37 L352.24,195.82 L352.27,195.28 L352.31,194.74 L352.34,194.20 L352.38,193.67 L352.41,193.15 L352.45,192.63 L352.49,192.11 L352.52,191.60 L352.56,191.10 L352.60,190.61 L352.64,190.12 L352.68,189.64 L352.72,189.18 L352.75,188.72 L352.79,188.27 L352.83,187.83 L352.87,187.41 L352.92,186.99 L352.96,186.59 L353.00,186.20 L353.07,185.60 L353.14,185.02 L353.21,184.46 L353.28,183.93 L353.35,183.41 L353.43,182.90 L353.50,182.41 L353.57,181.92 L353.65,181.45 L353.72,180.99 L353.80,180.53 L353.87,180.07 L353.95,179.62 L354.03,179.16 L354.10,178.70 L354.18,178.24 L354.25,177.77 L354.33,177.29 L354.40,176.80" stroke="#3f80ea" class="cv"/>
<path d="M13.3,20.20 H354.8 V295.50 H13.3 Z" class="fr"/>
<path d="M13.30,295.50 V300.50 M60.69,295.50 V300.50 M108.07,295.50 V300.50 M155.46,295.50 V300.50 M202.84,295.50 V300.50 M250.22,295.50 V300.50 M297.61,295.50 V300.50 M345.00,295.50 V300.50 M21.20,295.50 V298.10 M29.09,295.50 V298.10 M36.99,295.50 V298.10 M44.89,295.50 V298.10 M52.79,295.50 V298.10 M68.58,295.50 V298.10 M76.48,295.50 V298.10 M84.38,295.50 V298.10 M92.27,295.50 V298.10 M100.17,295.50 V298.10 M115.97,295.50 V298.10 M123.86,295.50 V298.10 M131.76,295.50 V298.10 M139.66,295.50 V298.10 M147.56,295.50 V298.10 M163.35,295.50 V298.10 M171.25,295.50 V298.10 M179.15,295.50 V298.10 M187.04,295.50 V298.10 M194.94,295.50 V298.10 M210.74,295.50 V298.10 M218.63,295.50 V298.10 M226.53,295.50 V298.10 M234.43,295.50 V298.10 M242.33,295.50 V298.10 M258.12,295.50 V298.10 M266.02,295.50 V298.10 M273.92,295.50 V298.10 M281.81,295.50 V298.10 M289.71,295.50 V298.10 M305.51,295.50 V298.10 M313.40,295.50 V298.10 M321.30,295.50 V298.10 M329.20,295.50 V298.10 M337.10,295.50 V298.10 M352.89,295.50 V298.10" class="tk"/>
<text transform="translate(13.30,314.20) scale(1,1.1)" class="tl">4000</text>
<text transform="translate(60.69,314.20) scale(1,1.1)" class="tl">3500</text>
<text transform="translate(108.07,314.20) scale(1,1.1)" class="tl">3000</text>
<text transform="translate(155.46,314.20) scale(1,1.1)" class="tl">2500</text>
<text transform="translate(202.84,314.20) scale(1,1.1)" class="tl">2000</text>
<text transform="translate(250.22,314.20) scale(1,1.1)" class="tl">1500</text>
<text transform="translate(297.61,314.20) scale(1,1.1)" class="tl">1000</text>
<text transform="translate(345.00,314.20) scale(1,1.1)" class="tl">500</text>
<text transform="translate(184.60,337.90) scale(1,1.08)" class="at">Wavenumbers (cm<tspan dy="-5" font-size="8.6">-1</tspan><tspan dy="5">)</tspan></text>
<rect x="22.7" y="247.6" width="60.0" height="40.70000000000002" rx="0.8" class="lg"/>
<path d="M23.6,254.5 H47.2" stroke="#676767" stroke-width="1.1"/>
<text transform="translate(50.00,258.20) scale(1,1.1)" class="lt">AAS0</text>
<path d="M23.6,267.6 H47.2" stroke="#f85a5a" stroke-width="1.1"/>
<text transform="translate(50.00,271.30) scale(1,1.1)" class="lt">AAS15</text>
<path d="M23.6,280.9 H47.2" stroke="#3f80ea" stroke-width="1.1"/>
<text transform="translate(50.00,284.60) scale(1,1.1)" class="lt">AAS20</text>
<text transform="translate(54.80,196.60) scale(1,1.14)" class="an">3441</text>
<text transform="translate(224.20,165.60) scale(1,1.14)" class="an">1636</text>
<text transform="translate(246.10,171.90) scale(1,1.14)" class="an">1407</text>
<text transform="translate(275.00,242.60) scale(1,1.14)" class="an">1079</text>
<text transform="translate(300.70,239.20) scale(1,1.14)" class="an">974</text>
<text transform="translate(307.90,201.60) scale(1,1.14)" class="an">797</text>
<text transform="translate(322.50,190.80) scale(1,1.14)" class="an">778</text>
<text transform="translate(323.80,179.90) scale(1,1.14)" class="an">693</text>
<text transform="translate(337.90,234.90) scale(1,1.14)" class="an">459</text>
<text transform="translate(13.40,355.80) scale(1,0.97)" class="pl">(b)</text>
<path d="M13.50,400.40 L14.03,399.87 L14.57,399.90 L15.11,400.37 L15.65,399.82 L16.19,400.56 L16.72,399.39 L17.25,400.38 L17.78,399.97 L18.29,400.14 L18.80,399.41 L19.31,398.91 L19.82,398.92 L20.31,399.38 L20.80,398.45 L21.29,398.40 L21.77,399.13 L22.25,399.08 L22.72,398.87 L23.20,398.65 L23.70,398.02 L24.20,398.13 L24.71,397.55 L25.21,397.00 L25.70,396.48 L26.19,395.64 L26.65,395.47 L27.09,395.52 L27.50,395.75 L27.99,395.43 L28.43,396.86 L28.84,396.72 L29.26,397.29 L29.70,397.72 L30.24,396.89 L30.80,397.70 L31.36,397.73 L31.90,396.89 L32.35,396.99 L32.79,398.34 L33.22,398.93 L33.65,399.18 L34.10,398.78 L34.41,398.90 L34.74,397.96 L35.07,397.69 L35.41,397.41 L35.76,397.26 L36.10,395.80 L36.44,396.34 L36.77,394.65 L37.10,395.48 L37.41,394.25 L37.70,394.92 L38.04,395.04 L38.36,395.52 L38.67,395.32 L38.96,396.15 L39.26,396.18 L39.57,397.45 L39.90,396.98 L40.21,398.39 L40.53,398.38 L40.86,398.06 L41.20,399.29 L41.54,399.31 L41.88,399.56 L42.20,400.08 L42.51,400.37 L42.80,400.97 L43.04,401.64 L43.27,402.23 L43.48,402.38 L43.69,402.82 L43.89,403.28 L44.08,403.74 L44.26,404.22 L44.45,404.70 L44.63,405.19 L44.81,405.69 L45.00,406.20 L45.16,406.68 L45.32,407.21 L45.47,407.80 L45.62,408.42 L45.78,409.06 L45.93,409.71 L46.07,410.35 L46.22,410.97 L46.36,411.56 L46.51,412.09 L46.65,412.56 L46.79,412.94 L46.93,413.32 L47.06,413.64 L47.20,413.69 L47.38,413.47 L47.55,412.90 L47.71,412.28 L47.87,411.57 L48.03,410.86 L48.21,410.23 L48.39,409.71 L48.60,409.45 L48.84,409.49 L49.10,410.04 L49.37,410.30 L49.65,411.06 L49.94,411.70 L50.23,412.35 L50.52,412.97 L50.80,413.64 L51.07,413.85 L51.33,414.44 L51.59,414.86 L51.85,415.34 L52.12,415.49 L52.40,416.00 L52.69,416.73 L53.00,416.93 L53.26,417.62 L53.53,418.24 L53.81,418.36 L54.09,419.19 L54.39,419.48 L54.69,420.18 L55.00,420.42 L55.31,421.04 L55.62,421.46 L55.94,421.61 L56.26,422.22 L56.58,422.62 L56.90,422.88 L57.33,423.36 L57.77,423.81 L58.22,423.99 L58.67,424.23 L59.12,424.04 L59.56,424.59 L60.00,424.78 L60.47,425.25 L60.93,424.98 L61.39,425.37 L61.85,426.12 L62.32,426.01 L62.80,426.42 L63.28,426.54 L63.77,426.60 L64.27,426.77 L64.78,426.96 L65.29,427.28 L65.80,427.02 L66.30,427.14 L66.82,426.77 L67.35,426.90 L67.88,426.68 L68.39,426.57 L68.87,426.41 L69.30,425.65 L69.65,425.86 L69.96,425.26 L70.24,424.61 L70.49,424.27 L70.75,423.57 L71.01,423.16 L71.29,423.05 L71.60,422.53 L71.90,422.25 L72.21,421.47 L72.53,421.09 L72.87,420.91 L73.21,420.63 L73.55,420.40 L73.91,419.79 L74.27,419.67 L74.63,419.18 L75.00,418.57 L75.28,418.53 L75.56,417.74 L75.85,417.67 L76.14,417.02 L76.43,416.53 L76.73,416.36 L77.03,415.96 L77.33,415.58 L77.64,415.00 L77.95,414.89 L78.26,414.36 L78.58,413.55 L78.89,413.04 L79.21,413.19 L79.53,412.46 L79.85,411.89 L80.18,411.56 L80.50,411.52 L80.87,410.83 L81.23,410.59 L81.60,410.43 L81.98,409.90 L82.35,409.77 L82.73,409.63 L83.11,409.23 L83.49,408.83 L83.88,408.53 L84.27,408.04 L84.67,407.94 L85.07,407.63 L85.48,407.28 L85.90,406.89 L86.28,406.75 L86.66,406.13 L87.04,406.13 L87.44,405.98 L87.84,405.11 L88.24,404.93 L88.64,405.06 L89.05,404.20 L89.46,404.33 L89.88,403.88 L90.29,403.26 L90.71,403.29 L91.13,402.61 L91.54,402.81 L91.96,402.17 L92.38,402.25 L92.79,401.93 L93.20,401.18 L93.62,401.04 L94.05,400.58 L94.47,400.63 L94.90,399.92 L95.32,399.59 L95.75,399.31 L96.17,399.44 L96.60,398.77 L97.02,398.51 L97.45,398.29 L97.88,398.06 L98.31,397.70 L98.74,397.74 L99.18,397.12 L99.62,396.95 L100.06,396.94 L100.50,396.35 L100.98,396.08 L101.47,396.25 L101.97,395.71 L102.48,395.84 L102.99,395.59 L103.50,395.13 L104.02,394.91 L104.53,394.60 L105.03,394.90 L105.53,394.50 L106.02,394.31 L106.49,394.10 L106.95,394.05 L107.38,394.37 L107.80,393.88 L108.38,394.11 L108.92,394.18 L109.44,394.18 L109.94,394.27 L110.43,394.33 L110.91,394.35 L111.40,394.89 L111.90,395.18 L112.39,395.31 L112.88,395.50 L113.37,396.26 L113.83,396.13 L114.28,396.29 L114.70,396.58 L115.06,396.51 L115.38,395.98 L115.68,395.21 L115.96,394.87 L116.25,394.57 L116.56,393.52 L116.90,393.15 L117.30,393.19 L117.75,392.88 L118.24,392.76 L118.78,392.31 L119.33,392.77 L119.88,392.50 L120.42,392.25 L120.94,392.64 L121.40,392.56 L121.85,391.74 L122.24,391.62 L122.60,391.47 L122.96,390.69 L123.32,390.23 L123.73,390.11 L124.20,389.56 L124.61,389.67 L125.05,389.38 L125.51,389.20 L126.00,388.94 L126.50,388.47 L127.01,388.62 L127.54,388.41 L128.06,388.22 L128.58,388.13 L129.10,387.83 L129.60,387.62 L130.10,387.90 L130.60,387.43 L131.10,387.13 L131.61,387.51 L132.11,387.10 L132.62,387.06 L133.12,386.73 L133.62,386.48 L134.12,386.46 L134.61,386.63 L135.10,386.16 L135.60,386.42 L136.09,385.92 L136.57,386.16 L137.06,385.60 L137.53,385.64 L138.02,385.33 L138.50,385.21 L138.99,385.30 L139.49,385.07 L140.00,385.02 L140.45,384.69 L140.90,384.59 L141.34,384.43 L141.79,384.61 L142.24,383.94 L142.70,383.96 L143.16,384.05 L143.64,383.70 L144.12,383.34 L144.62,383.62 L145.13,382.93 L145.65,382.81 L146.20,382.61 L146.64,382.77 L147.09,382.94 L147.55,382.52 L148.02,382.45 L148.51,382.69 L149.00,382.19 L149.51,382.10 L150.02,382.43 L150.53,382.03 L151.05,382.25 L151.58,381.98 L152.11,382.21 L152.64,382.32 L153.18,382.04 L153.71,381.90 L154.25,382.07 L154.78,382.09 L155.32,381.67 L155.84,381.74 L156.37,381.79 L156.89,381.84 L157.40,381.66 L157.91,381.86 L158.42,381.59 L158.93,381.95 L159.43,381.59 L159.94,381.49 L160.45,381.38 L160.96,381.38 L161.47,381.42 L161.98,381.80 L162.49,381.50 L163.00,381.50 L163.51,381.79 L164.02,381.78 L164.53,381.65 L165.04,381.32 L165.54,381.36 L166.05,381.45 L166.56,381.29 L167.07,381.34 L167.58,381.25 L168.09,381.25 L168.60,381.55 L169.11,381.45 L169.62,381.35 L170.13,381.36 L170.64,381.44 L171.15,381.48 L171.65,381.08 L172.16,381.58 L172.67,381.35 L173.18,381.28 L173.69,381.65 L174.20,381.53 L174.71,381.29 L175.22,381.09 L175.73,381.35 L176.24,381.35 L176.75,381.31 L177.25,381.15 L177.76,381.44 L178.27,381.25 L178.78,381.56 L179.29,381.42 L179.80,381.28 L180.31,381.59 L180.82,381.37 L181.33,381.14 L181.84,381.26 L182.35,381.11 L182.86,381.33 L183.36,381.61 L183.87,381.63 L184.38,381.45 L184.89,381.14 L185.40,381.19 L185.91,381.16 L186.42,381.26 L186.93,381.42 L187.44,381.05 L187.95,381.33 L188.46,381.29 L188.96,381.44 L189.47,381.55 L189.98,381.30 L190.49,381.44 L191.00,381.26 L191.51,381.39 L192.03,381.53 L192.54,381.21 L193.06,381.52 L193.59,381.55 L194.11,381.39 L194.63,381.47 L195.16,381.86 L195.68,381.62 L196.21,381.57 L196.73,381.67 L197.25,381.86 L197.76,381.83 L198.28,381.85 L198.79,381.88 L199.29,381.86 L199.79,382.08 L200.29,382.19 L200.78,381.93 L201.26,382.27 L201.73,382.14 L202.20,382.59 L202.76,382.61 L203.32,382.17 L203.87,382.56 L204.42,382.40 L204.96,382.30 L205.49,382.81 L206.02,382.87 L206.54,382.85 L207.06,382.80 L207.56,383.05 L208.07,382.85 L208.56,382.96 L209.05,383.00 L209.53,383.17 L210.00,383.21 L210.58,382.95 L211.15,382.97 L211.71,383.25 L212.25,383.36 L212.79,383.30 L213.32,383.67 L213.83,383.73 L214.34,383.68 L214.83,383.62 L215.30,383.72 L215.88,383.37 L216.42,383.64 L216.93,383.11 L217.44,383.46 L217.99,383.20 L218.60,382.97 L219.04,382.93 L219.51,383.20 L220.01,383.17 L220.53,383.37 L221.06,383.08 L221.60,383.64 L222.15,383.47 L222.70,383.58 L223.25,383.88 L223.79,383.93 L224.31,383.97 L224.82,384.02 L225.30,384.28 L225.81,384.19 L226.32,384.50 L226.83,385.02 L227.33,384.79 L227.82,384.98 L228.31,385.65 L228.77,385.60 L229.22,385.95 L229.64,386.25 L230.03,386.62 L230.40,386.69 L230.77,387.35 L231.10,387.31 L231.39,388.27 L231.66,388.43 L231.91,389.03 L232.15,389.53 L232.39,390.03 L232.63,390.60 L232.90,390.88 L233.18,391.62 L233.46,391.88 L233.73,392.51 L234.01,392.83 L234.29,393.62 L234.57,394.06 L234.85,394.17 L235.12,394.94 L235.40,395.47 L235.72,395.56 L236.01,396.08 L236.31,397.06 L236.63,397.53 L236.98,397.35 L237.40,397.87 L237.65,397.92 L237.92,397.38 L238.21,397.46 L238.52,396.87 L238.85,396.79 L239.19,396.20 L239.54,395.70 L239.91,394.99 L240.28,394.77 L240.66,394.25 L241.05,393.45 L241.44,392.76 L241.82,392.26 L242.21,391.85 L242.59,391.83 L242.97,391.26 L243.34,390.99 L243.70,390.61 L244.05,390.03 L244.38,390.06 L244.70,390.37 L245.02,390.38 L245.32,390.62 L245.62,390.74 L245.92,390.96 L246.21,391.34 L246.49,391.83 L246.77,391.99 L247.05,392.23 L247.32,392.91 L247.59,393.56 L247.86,394.11 L248.13,394.67 L248.39,395.23 L248.66,395.78 L248.93,396.03 L249.20,396.71 L249.47,397.40 L249.74,397.67 L250.02,398.08 L250.30,398.36 L250.67,398.96 L251.05,399.50 L251.43,399.96 L251.81,400.58 L252.18,400.45 L252.56,400.95 L252.94,401.21 L253.32,402.07 L253.69,402.24 L254.06,402.58 L254.43,402.99 L254.80,402.80 L255.23,403.71 L255.66,403.77 L256.08,404.34 L256.49,404.57 L256.91,405.08 L257.33,405.05 L257.76,405.17 L258.20,405.15 L258.50,405.34 L258.81,404.98 L259.14,404.53 L259.47,404.30 L259.81,404.03 L260.15,403.45 L260.49,403.09 L260.84,402.72 L261.18,402.06 L261.52,401.62 L261.85,400.78 L262.17,400.60 L262.48,400.15 L262.78,399.44 L263.06,398.73 L263.33,398.42 L263.57,398.55 L263.80,398.42 L264.38,397.99 L265.00,397.80 L265.32,397.89 L265.70,397.76 L266.11,398.22 L266.56,398.69 L267.04,398.48 L267.54,399.02 L268.05,399.48 L268.56,399.70 L269.07,399.87 L269.57,400.16 L270.05,400.80 L270.50,401.26 L270.91,401.54 L271.33,401.58 L271.75,402.12 L272.17,402.51 L272.59,402.60 L273.00,403.19 L273.41,403.34 L273.81,403.61 L274.20,403.88 L274.58,404.71 L274.94,405.12 L275.28,405.10 L275.60,405.52 L275.90,406.09 L276.19,406.48 L276.45,407.25 L276.69,407.58 L276.90,408.05 L277.09,408.53 L277.28,409.02 L277.46,409.51 L277.63,410.02 L277.81,410.53 L277.99,411.04 L278.19,411.57 L278.40,412.10 L278.58,412.53 L278.75,412.98 L278.93,413.43 L279.11,413.90 L279.29,414.37 L279.48,414.85 L279.66,415.34 L279.85,415.83 L280.03,416.32 L280.22,416.81 L280.41,417.29 L280.61,417.78 L280.80,418.25 L281.00,418.72 L281.19,419.19 L281.39,419.64 L281.60,420.08 L281.80,420.50 L282.05,420.80 L282.31,421.51 L282.58,421.94 L282.85,422.26 L283.12,422.99 L283.40,423.16 L283.68,423.63 L283.95,424.15 L284.22,424.42 L284.48,424.72 L284.73,425.63 L284.97,425.82 L285.20,426.30 L285.39,426.74 L285.57,427.19 L285.74,427.65 L285.91,428.12 L286.07,428.59 L286.22,429.08 L286.37,429.56 L286.52,430.05 L286.66,430.54 L286.81,431.03 L286.95,431.52 L287.09,432.01 L287.24,432.49 L287.39,432.97 L287.54,433.44 L287.70,433.90 L287.87,434.40 L288.02,434.92 L288.17,435.44 L288.31,435.97 L288.44,436.49 L288.58,437.01 L288.73,437.53 L288.89,438.03 L289.05,438.52 L289.24,438.99 L289.44,439.44 L289.66,440.01 L289.92,440.27 L290.20,440.60 L290.56,441.02 L290.97,441.14 L291.40,441.27 L291.86,441.78 L292.35,442.20 L292.84,441.92 L293.35,442.63 L293.85,442.46 L294.35,443.03 L294.83,443.11 L295.30,443.06 L295.77,443.34 L296.26,444.12 L296.75,444.59 L297.24,444.92 L297.74,445.22 L298.22,445.61 L298.68,446.12 L299.13,446.44 L299.55,446.65 L299.95,446.41 L300.30,446.70 L300.57,446.62 L300.81,446.16 L301.03,445.49 L301.22,445.39 L301.40,444.93 L301.56,444.41 L301.71,443.85 L301.85,443.26 L301.98,442.64 L302.11,442.01 L302.24,441.38 L302.37,440.75 L302.50,440.14 L302.65,439.55 L302.80,439.00 L302.94,438.54 L303.07,438.07 L303.20,437.59 L303.33,437.11 L303.46,436.62 L303.58,436.14 L303.70,435.64 L303.83,435.15 L303.95,434.65 L304.08,434.16 L304.20,433.66 L304.33,433.16 L304.46,432.66 L304.59,432.16 L304.72,431.66 L304.86,431.17 L305.00,430.68 L305.15,430.19 L305.30,429.70 L305.46,429.21 L305.61,428.71 L305.77,428.22 L305.92,427.72 L306.08,427.22 L306.24,426.71 L306.40,426.21 L306.56,425.71 L306.73,425.22 L306.90,424.72 L307.08,424.23 L307.26,423.74 L307.44,423.26 L307.64,422.78 L307.83,422.31 L308.04,421.84 L308.25,421.39 L308.47,420.75 L308.70,420.59 L308.97,419.96 L309.26,419.73 L309.56,419.02 L309.88,418.50 L310.21,417.61 L310.55,417.27 L310.89,416.83 L311.24,416.43 L311.58,415.92 L311.92,415.08 L312.25,414.81 L312.57,414.73 L312.88,413.90 L313.18,413.66 L313.45,413.57 L313.70,413.84 L314.19,413.72 L314.63,414.33 L315.03,414.96 L315.40,415.59 L315.56,415.75 L315.70,416.18 L315.81,416.67 L315.92,417.22 L316.01,417.80 L316.09,418.40 L316.17,419.02 L316.25,419.65 L316.33,420.26 L316.42,420.84 L316.52,421.40 L316.64,421.90 L316.77,422.34 L316.92,422.44 L317.10,423.11 L317.63,423.69 L318.23,423.93 L318.80,424.02 L319.05,423.81 L319.28,423.35 L319.52,422.81 L319.74,422.26 L319.96,421.65 L320.18,421.02 L320.40,420.40 L320.62,419.84 L320.84,419.58 L321.07,419.03 L321.30,418.56 L321.93,418.78 L322.60,419.36 L322.99,418.85 L323.42,418.66 L323.87,418.55 L324.33,418.08 L324.78,417.81 L325.20,417.38 L325.83,417.13 L326.44,416.69 L327.00,416.82 L327.32,417.06 L327.60,417.74 L327.85,418.27 L328.11,418.88 L328.38,419.50 L328.70,419.74 L329.02,420.47 L329.37,420.50 L329.73,421.01 L330.11,421.13 L330.50,421.76 L330.90,421.95 L331.30,422.86 L331.57,422.84 L331.86,423.47 L332.16,423.60 L332.46,423.91 L332.77,424.61 L333.08,424.68 L333.40,425.25 L333.71,425.75 L334.02,426.39 L334.33,426.65 L334.63,426.70 L334.91,427.38 L335.19,428.12 L335.45,428.49 L335.70,428.62 L335.95,428.93 L336.18,429.61 L336.40,430.07 L336.61,430.53 L336.81,431.00 L337.01,431.46 L337.19,431.93 L337.38,432.40 L337.56,432.88 L337.74,433.35 L337.92,433.83 L338.11,434.31 L338.30,434.80 L338.49,435.28 L338.68,435.75 L338.87,436.23 L339.05,436.70 L339.24,437.18 L339.42,437.65 L339.61,438.14 L339.79,438.63 L339.97,439.13 L340.16,439.63 L340.34,440.15 L340.53,440.69 L340.71,441.24 L340.90,441.80 L341.04,442.23 L341.18,442.66 L341.32,443.12 L341.46,443.58 L341.60,444.05 L341.74,444.53 L341.88,445.02 L342.02,445.52 L342.16,446.02 L342.31,446.53 L342.45,447.04 L342.59,447.56 L342.73,448.07 L342.88,448.59 L343.02,449.10 L343.16,449.62 L343.30,450.13 L343.44,450.64 L343.58,451.14 L343.72,451.64 L343.86,452.13 L343.99,452.61 L344.13,453.08 L344.27,453.55 L344.40,454.00 L344.56,454.52 L344.71,455.03 L344.87,455.53 L345.03,456.02 L345.18,456.51 L345.34,456.99 L345.49,457.47 L345.65,457.94 L345.80,458.41 L345.95,458.88 L346.10,459.35 L346.25,459.82 L346.40,460.29 L346.54,460.76 L346.69,461.24 L346.83,461.72 L346.96,462.21 L347.10,462.70 L347.23,463.22 L347.36,463.78 L347.48,464.38 L347.60,465.02 L347.72,465.67 L347.84,466.34 L347.95,467.01 L348.07,467.68 L348.18,468.34 L348.29,468.97 L348.40,469.57 L348.51,470.14 L348.62,470.66 L348.73,471.12 L348.84,471.52 L348.96,471.85 L349.07,471.95 L349.18,472.40 L349.30,472.11 L349.45,472.46 L349.61,471.86 L349.76,471.65 L349.92,471.20 L350.08,470.66 L350.24,470.05 L350.39,469.40 L350.55,468.73 L350.69,468.05 L350.84,467.39 L350.97,466.77 L351.10,466.20 L351.21,465.71 L351.30,465.19 L351.39,464.65 L351.48,464.10 L351.55,463.54 L351.63,462.98 L351.70,462.43 L351.77,461.89 L351.85,461.36 L351.93,460.86 L352.01,460.39 L352.10,459.95 L352.19,459.55 L352.30,459.20 L352.59,458.40 L352.90,457.86 L353.20,457.62 L353.34,457.46 L353.48,457.92 L353.62,458.36 L353.75,458.90 L353.88,459.52 L354.01,460.18 L354.14,460.83 L354.27,461.45 L354.40,462.00" stroke="#676767" class="cv"/>
<path d="M13.50,424.40 L14.05,424.44 L14.60,424.66 L15.15,424.35 L15.70,424.68 L16.25,424.77 L16.82,425.06 L17.40,424.18 L17.89,423.88 L18.41,424.02 L18.94,423.88 L19.48,423.52 L20.02,423.80 L20.56,422.86 L21.08,423.09 L21.58,422.98 L22.06,422.67 L22.50,423.01 L22.97,423.19 L23.39,423.41 L23.79,424.22 L24.17,424.84 L24.55,425.17 L24.96,424.58 L25.40,424.84 L25.83,425.39 L26.29,424.23 L26.76,423.95 L27.25,423.61 L27.75,424.27 L28.24,423.48 L28.74,423.16 L29.23,422.65 L29.70,423.48 L30.11,423.71 L30.53,423.59 L30.94,424.13 L31.36,424.11 L31.77,424.22 L32.18,424.49 L32.58,425.02 L32.97,425.22 L33.36,425.76 L33.74,425.61 L34.10,425.68 L34.47,426.53 L34.82,426.22 L35.17,425.80 L35.50,424.82 L35.83,424.42 L36.15,424.00 L36.46,423.78 L36.78,422.84 L37.09,422.78 L37.40,422.69 L37.77,423.05 L38.14,422.70 L38.50,422.63 L38.86,423.46 L39.21,424.44 L39.56,424.13 L39.90,425.08 L40.18,424.92 L40.46,425.47 L40.74,426.30 L41.02,426.42 L41.29,427.08 L41.56,427.65 L41.83,428.07 L42.09,428.79 L42.34,429.16 L42.57,429.67 L42.80,430.20 L42.98,430.64 L43.15,431.10 L43.31,431.57 L43.47,432.06 L43.62,432.55 L43.77,433.06 L43.91,433.57 L44.04,434.09 L44.18,434.61 L44.30,435.13 L44.43,435.65 L44.55,436.17 L44.67,436.69 L44.78,437.20 L44.89,437.70 L45.00,438.20 L45.11,438.73 L45.22,439.25 L45.32,439.77 L45.42,440.29 L45.51,440.81 L45.60,441.33 L45.69,441.84 L45.77,442.36 L45.84,442.88 L45.92,443.39 L45.99,443.92 L46.06,444.44 L46.13,444.97 L46.20,445.50 L46.26,446.02 L46.31,446.59 L46.36,447.20 L46.41,447.85 L46.45,448.51 L46.49,449.17 L46.53,449.83 L46.57,450.47 L46.60,451.08 L46.64,451.65 L46.68,452.17 L46.72,452.61 L46.76,452.98 L46.80,453.26 L46.85,453.44 L46.90,453.52 L46.95,453.41 L46.99,453.17 L47.03,452.79 L47.07,452.29 L47.10,451.70 L47.14,451.04 L47.18,450.34 L47.22,449.61 L47.26,448.87 L47.32,448.16 L47.38,447.48 L47.46,446.87 L47.55,446.34 L47.65,445.92 L47.76,445.38 L47.90,445.49 L48.22,445.59 L48.58,445.89 L48.98,446.43 L49.40,446.99 L49.66,447.41 L49.93,447.76 L50.21,447.95 L50.51,448.56 L50.81,449.02 L51.12,449.33 L51.44,449.98 L51.75,450.13 L52.07,450.68 L52.38,451.12 L52.70,451.56 L53.00,451.77 L53.27,452.39 L53.54,452.51 L53.80,453.14 L54.07,453.53 L54.34,454.10 L54.62,454.64 L54.89,455.17 L55.16,455.28 L55.42,456.10 L55.69,456.36 L55.96,456.86 L56.22,457.09 L56.48,457.96 L56.74,458.08 L57.00,458.52 L57.31,459.01 L57.62,459.44 L57.92,459.90 L58.23,460.32 L58.53,460.84 L58.82,461.12 L59.12,461.68 L59.41,462.11 L59.71,462.43 L60.00,462.47 L60.38,463.04 L60.74,463.48 L61.09,463.89 L61.46,464.12 L61.86,464.39 L62.30,465.03 L62.75,465.30 L63.23,465.47 L63.75,465.92 L64.27,465.85 L64.80,466.36 L65.31,466.46 L65.80,466.43 L66.26,465.84 L66.70,465.88 L67.14,465.61 L67.57,464.95 L67.99,464.82 L68.40,464.25 L68.80,463.92 L69.14,463.50 L69.46,463.28 L69.76,463.19 L70.06,462.66 L70.35,462.36 L70.65,462.03 L70.95,461.21 L71.27,461.14 L71.60,460.76 L71.93,460.26 L72.26,459.73 L72.61,459.27 L72.97,459.01 L73.32,458.58 L73.69,458.12 L74.05,457.92 L74.40,457.50 L74.76,456.92 L75.10,456.48 L75.43,456.25 L75.76,455.95 L76.09,455.52 L76.42,455.11 L76.75,454.83 L77.08,454.37 L77.40,453.82 L77.71,453.60 L78.01,453.20 L78.31,452.69 L78.60,452.29 L78.99,452.01 L79.34,451.84 L79.69,451.54 L80.07,450.95 L80.50,450.62 L80.78,450.07 L81.08,449.99 L81.39,449.55 L81.71,449.32 L82.05,448.98 L82.40,448.19 L82.76,448.26 L83.13,447.50 L83.51,447.53 L83.89,447.19 L84.28,446.47 L84.68,446.16 L85.09,445.76 L85.49,445.80 L85.90,445.39 L86.28,445.18 L86.68,444.77 L87.08,444.21 L87.48,444.08 L87.90,443.54 L88.31,443.21 L88.74,442.96 L89.17,442.82 L89.60,442.38 L90.04,442.27 L90.48,442.08 L90.93,442.00 L91.38,441.65 L91.83,441.43 L92.29,441.29 L92.74,441.00 L93.20,440.87 L93.63,440.28 L94.06,440.02 L94.51,439.64 L94.95,439.51 L95.41,439.42 L95.86,439.01 L96.32,438.77 L96.79,438.68 L97.25,438.42 L97.72,437.97 L98.18,437.76 L98.65,437.74 L99.12,437.40 L99.58,437.38 L100.04,437.37 L100.50,437.20 L100.96,436.96 L101.41,436.28 L101.86,435.79 L102.30,435.70 L102.80,435.06 L103.31,435.19 L103.82,434.95 L104.32,435.12 L104.83,435.05 L105.33,435.17 L105.83,435.16 L106.33,435.09 L106.82,435.46 L107.31,434.91 L107.78,434.57 L108.25,434.68 L108.71,434.16 L109.16,433.90 L109.60,433.87 L110.16,433.69 L110.70,433.60 L111.22,433.93 L111.73,434.54 L112.23,435.01 L112.72,435.20 L113.21,435.51 L113.71,435.77 L114.20,435.48 L114.66,435.60 L115.11,435.15 L115.56,434.43 L116.01,434.15 L116.45,433.69 L116.90,433.03 L117.34,432.90 L117.79,432.89 L118.24,432.66 L118.70,432.84 L119.20,432.72 L119.71,433.24 L120.23,433.16 L120.74,433.08 L121.26,432.64 L121.77,432.53 L122.29,431.97 L122.80,431.76 L123.30,431.21 L123.76,430.91 L124.21,430.67 L124.65,430.42 L125.09,430.39 L125.53,430.47 L125.97,430.29 L126.41,430.52 L126.87,430.71 L127.33,430.52 L127.80,430.48 L128.27,429.80 L128.75,429.72 L129.24,429.10 L129.73,429.00 L130.22,428.36 L130.72,428.13 L131.23,427.93 L131.74,427.52 L132.26,427.53 L132.78,427.99 L133.30,428.13 L133.76,428.02 L134.22,427.83 L134.69,427.74 L135.17,427.91 L135.65,427.54 L136.13,426.97 L136.62,426.67 L137.10,426.31 L137.59,425.54 L138.08,425.65 L138.56,425.63 L139.05,425.56 L139.52,425.65 L140.00,425.57 L140.52,425.81 L141.02,425.67 L141.52,426.01 L142.01,425.84 L142.50,425.48 L142.99,424.99 L143.49,424.68 L144.00,424.41 L144.52,424.35 L145.06,423.92 L145.62,424.05 L146.20,423.82 L146.64,424.01 L147.09,424.19 L147.56,424.41 L148.03,424.81 L148.52,424.65 L149.01,424.56 L149.52,424.55 L150.03,424.14 L150.54,424.00 L151.06,423.56 L151.59,423.35 L152.12,422.98 L152.65,422.95 L153.18,423.11 L153.72,423.60 L154.25,423.84 L154.79,423.89 L155.32,424.00 L155.84,423.80 L156.37,424.07 L156.89,423.71 L157.40,423.31 L157.91,422.89 L158.42,422.79 L158.93,422.76 L159.43,422.53 L159.94,422.65 L160.45,423.01 L160.96,423.30 L161.47,423.36 L161.98,423.65 L162.49,423.96 L163.00,424.16 L163.51,423.89 L164.02,423.51 L164.53,423.36 L165.04,423.08 L165.54,423.17 L166.05,422.82 L166.56,423.24 L167.07,423.06 L167.58,423.27 L168.09,423.50 L168.60,424.03 L169.11,424.27 L169.62,424.51 L170.13,424.43 L170.64,424.22 L171.15,423.73 L171.65,423.88 L172.16,423.28 L172.67,423.08 L173.18,422.97 L173.69,423.23 L174.20,423.44 L174.71,423.54 L175.22,423.81 L175.73,423.96 L176.24,424.45 L176.75,424.59 L177.25,424.23 L177.76,424.12 L178.27,424.12 L178.78,423.81 L179.29,423.28 L179.80,423.55 L180.31,423.37 L180.82,423.47 L181.33,423.48 L181.84,424.09 L182.35,424.14 L182.86,424.50 L183.37,424.84 L183.88,424.81 L184.40,424.39 L184.91,424.17 L185.42,423.94 L185.93,423.63 L186.44,423.79 L186.95,423.50 L187.46,423.47 L187.97,423.57 L188.47,423.89 L188.98,424.18 L189.49,424.64 L189.99,424.76 L190.50,425.16 L191.00,425.21 L191.52,425.15 L192.04,424.92 L192.57,424.42 L193.09,424.35 L193.62,424.44 L194.14,424.21 L194.67,424.47 L195.19,424.58 L195.72,425.27 L196.24,425.45 L196.76,425.85 L197.28,426.37 L197.79,426.18 L198.31,426.16 L198.82,426.27 L199.32,426.10 L199.83,425.72 L200.33,425.68 L200.82,425.76 L201.31,425.82 L201.80,425.94 L202.36,426.10 L202.92,426.02 L203.48,426.43 L204.05,426.65 L204.61,426.47 L205.17,426.71 L205.72,426.17 L206.27,426.03 L206.81,425.56 L207.33,425.00 L207.85,424.80 L208.35,424.76 L208.84,424.68 L209.31,424.77 L209.77,425.25 L210.20,425.48 L210.75,425.97 L211.26,426.71 L211.74,427.10 L212.20,427.27 L212.64,427.32 L213.08,427.83 L213.51,427.62 L213.95,427.49 L214.40,427.66 L214.82,427.51 L215.23,426.93 L215.64,426.81 L216.05,426.73 L216.46,426.32 L216.87,426.05 L217.29,425.81 L217.71,425.63 L218.15,425.99 L218.60,425.90 L219.08,425.55 L219.58,425.71 L220.10,425.38 L220.63,425.56 L221.16,425.32 L221.69,425.53 L222.22,425.62 L222.73,425.68 L223.23,426.29 L223.70,426.70 L224.29,426.82 L224.86,427.12 L225.41,427.39 L225.94,427.65 L226.47,427.71 L227.00,427.36 L227.45,427.51 L227.89,427.42 L228.33,427.26 L228.77,427.52 L229.19,428.01 L229.61,428.24 L230.01,428.77 L230.40,429.48 L230.69,429.70 L230.96,430.40 L231.23,430.99 L231.49,431.59 L231.74,432.22 L231.99,432.57 L232.23,433.23 L232.47,433.75 L232.71,433.62 L232.96,434.54 L233.20,435.32 L233.45,435.80 L233.70,435.96 L233.95,435.98 L234.19,436.50 L234.42,437.06 L234.65,437.64 L234.88,438.22 L235.11,438.79 L235.34,439.34 L235.59,439.27 L235.85,439.64 L236.13,440.04 L236.42,440.33 L236.75,440.57 L237.10,441.15 L237.41,441.01 L237.75,441.01 L238.11,441.25 L238.49,440.86 L238.89,440.88 L239.31,440.71 L239.73,440.45 L240.17,439.68 L240.61,438.92 L241.05,438.68 L241.49,437.46 L241.94,436.95 L242.37,436.35 L242.80,436.06 L243.21,435.36 L243.61,435.08 L244.00,435.03 L244.36,435.15 L244.70,435.25 L244.96,435.88 L245.21,435.99 L245.45,436.44 L245.68,436.60 L245.90,437.20 L246.11,437.76 L246.32,437.40 L246.52,437.83 L246.71,438.30 L246.90,438.79 L247.09,439.31 L247.27,439.85 L247.44,440.41 L247.62,440.99 L247.79,441.58 L247.96,442.17 L248.12,442.77 L248.29,443.37 L248.46,443.97 L248.63,444.56 L248.80,445.14 L248.98,445.71 L249.15,446.26 L249.33,446.79 L249.51,447.29 L249.70,447.77 L249.89,448.22 L250.09,447.85 L250.30,448.58 L250.61,448.78 L250.92,449.56 L251.24,450.26 L251.56,450.63 L251.88,451.48 L252.20,451.81 L252.53,452.41 L252.86,453.20 L253.18,453.53 L253.51,453.68 L253.84,454.09 L254.16,454.58 L254.48,454.72 L254.80,454.76 L255.23,455.37 L255.65,455.36 L256.06,455.90 L256.48,455.89 L256.90,456.06 L257.32,456.44 L257.76,456.87 L258.20,457.07 L258.46,456.94 L258.71,456.74 L258.98,456.77 L259.24,456.45 L259.51,456.24 L259.77,455.74 L260.04,455.35 L260.32,454.51 L260.59,453.93 L260.87,453.32 L261.15,452.70 L261.43,452.07 L261.71,451.44 L261.99,450.81 L262.28,450.20 L262.57,449.80 L262.85,449.00 L263.14,448.07 L263.43,447.67 L263.73,446.88 L264.02,446.88 L264.31,446.49 L264.61,446.39 L264.90,446.22 L265.29,446.36 L265.69,446.83 L266.09,446.96 L266.50,447.28 L266.91,447.77 L267.32,448.63 L267.74,448.72 L268.15,448.98 L268.56,449.54 L268.96,449.59 L269.36,449.98 L269.75,450.39 L270.13,450.38 L270.50,450.75 L270.78,451.26 L271.06,451.54 L271.33,451.90 L271.61,451.89 L271.88,452.82 L272.14,453.11 L272.41,453.44 L272.67,454.42 L272.93,454.57 L273.19,455.59 L273.44,455.70 L273.69,456.30 L273.93,457.07 L274.17,457.68 L274.41,457.54 L274.64,458.01 L274.86,458.49 L275.08,458.97 L275.30,459.46 L275.51,459.94 L275.71,460.43 L275.91,460.91 L276.10,461.40 L276.27,461.86 L276.43,462.33 L276.59,462.82 L276.74,463.31 L276.88,463.81 L277.02,464.32 L277.15,464.84 L277.27,465.37 L277.39,465.89 L277.51,466.43 L277.62,466.96 L277.73,467.50 L277.84,468.03 L277.94,468.57 L278.04,469.10 L278.14,469.63 L278.24,470.15 L278.34,470.67 L278.44,471.18 L278.54,471.69 L278.64,472.18 L278.75,472.67 L278.85,473.14 L278.96,473.60 L279.07,474.05 L279.18,474.48 L279.30,474.90 L279.47,475.49 L279.64,476.06 L279.81,476.61 L279.97,477.15 L280.13,477.66 L280.29,478.17 L280.46,478.66 L280.63,479.15 L280.81,479.62 L280.99,480.10 L281.18,480.56 L281.39,481.03 L281.60,481.50 L281.83,482.65 L282.09,483.18 L282.35,483.17 L282.63,483.79 L282.92,483.85 L283.20,484.41 L283.49,484.48 L283.78,484.77 L284.05,484.78 L284.32,485.52 L284.57,486.25 L284.80,486.80 L284.94,487.18 L285.08,487.58 L285.21,487.99 L285.34,488.42 L285.46,488.87 L285.57,489.33 L285.69,489.80 L285.80,490.28 L285.90,490.77 L286.01,491.28 L286.11,491.79 L286.20,492.31 L286.30,492.83 L286.39,493.36 L286.48,493.90 L286.57,494.43 L286.66,494.98 L286.74,495.52 L286.83,496.06 L286.91,496.60 L287.00,497.14 L287.08,497.68 L287.17,498.22 L287.25,498.75 L287.34,499.27 L287.42,499.79 L287.51,500.30 L287.60,500.80 L287.69,501.32 L287.77,501.87 L287.84,502.45 L287.91,503.05 L287.98,503.67 L288.04,504.30 L288.10,504.94 L288.15,505.59 L288.21,506.24 L288.26,506.90 L288.31,507.55 L288.37,508.19 L288.42,508.82 L288.48,509.43 L288.54,510.03 L288.61,510.61 L288.67,511.15 L288.75,511.67 L288.83,512.16 L288.92,512.61 L289.02,513.01 L289.12,513.38 L289.23,513.69 L289.36,514.41 L289.49,514.53 L289.64,514.73 L289.80,514.92 L290.11,514.52 L290.46,514.18 L290.83,513.68 L291.22,512.83 L291.63,512.07 L292.04,511.57 L292.46,511.19 L292.88,510.80 L293.30,510.37 L293.77,510.52 L294.25,510.56 L294.73,510.45 L295.22,510.11 L295.71,509.91 L296.21,510.19 L296.70,509.83 L297.21,509.47 L297.74,509.68 L298.28,509.70 L298.81,509.93 L299.31,510.07 L299.78,510.47 L300.20,510.41 L300.39,510.37 L300.56,510.25 L300.71,510.31 L300.85,510.08 L300.98,509.75 L301.10,509.39 L301.21,508.98 L301.31,508.54 L301.40,508.07 L301.49,507.57 L301.56,507.04 L301.64,506.49 L301.70,505.92 L301.77,505.34 L301.83,504.74 L301.89,504.13 L301.95,503.51 L302.00,502.88 L302.06,502.26 L302.13,501.63 L302.19,501.02 L302.26,500.41 L302.34,499.81 L302.42,499.22 L302.50,498.65 L302.60,498.10 L302.68,497.64 L302.77,497.17 L302.85,496.70 L302.94,496.22 L303.03,495.74 L303.11,495.25 L303.20,494.76 L303.29,494.26 L303.37,493.75 L303.46,493.25 L303.55,492.74 L303.64,492.22 L303.73,491.71 L303.82,491.19 L303.91,490.67 L304.00,490.15 L304.09,489.63 L304.18,489.10 L304.27,488.58 L304.36,488.05 L304.45,487.53 L304.55,487.01 L304.64,486.49 L304.73,485.97 L304.83,485.45 L304.92,484.93 L305.02,484.42 L305.11,483.91 L305.21,483.40 L305.31,482.89 L305.40,482.39 L305.50,481.90 L305.60,481.41 L305.70,480.92 L305.80,480.44 L305.90,479.97 L306.00,479.50 L306.12,478.97 L306.23,478.43 L306.35,477.89 L306.48,477.36 L306.60,476.83 L306.72,476.29 L306.84,475.76 L306.97,475.23 L307.09,474.70 L307.22,474.18 L307.35,473.66 L307.47,473.14 L307.60,472.62 L307.73,472.11 L307.86,471.61 L307.99,471.11 L308.11,470.61 L308.24,470.12 L308.37,469.63 L308.50,469.16 L308.63,468.68 L308.75,468.22 L308.88,467.76 L309.01,467.31 L309.13,466.87 L309.25,466.44 L309.38,466.01 L309.50,465.60 L309.68,465.02 L309.85,464.47 L310.03,463.95 L310.21,463.44 L310.39,462.94 L310.57,462.46 L310.75,461.98 L310.92,461.51 L311.10,461.04 L311.27,460.57 L311.43,460.10 L311.59,459.61 L311.75,459.11 L311.90,458.60 L312.03,458.08 L312.16,457.51 L312.29,456.89 L312.41,456.24 L312.52,455.58 L312.64,454.90 L312.75,454.23 L312.86,453.58 L312.96,452.96 L313.07,452.38 L313.17,451.86 L313.28,451.40 L313.38,451.03 L313.49,450.74 L313.59,450.12 L313.70,449.80 L313.81,449.78 L313.92,450.73 L314.03,451.00 L314.14,451.36 L314.24,451.80 L314.35,452.31 L314.46,452.87 L314.56,453.47 L314.67,454.11 L314.77,454.77 L314.88,455.44 L314.98,456.11 L315.09,456.77 L315.19,457.40 L315.30,458.00 L315.38,458.44 L315.45,458.93 L315.52,459.45 L315.59,460.01 L315.66,460.59 L315.73,461.20 L315.79,461.83 L315.86,462.47 L315.92,463.13 L315.99,463.79 L316.05,464.45 L316.12,465.12 L316.18,465.77 L316.25,466.42 L316.32,467.05 L316.39,467.67 L316.46,468.26 L316.53,468.82 L316.60,469.35 L316.68,469.85 L316.76,470.30 L316.84,470.72 L316.93,471.08 L317.01,471.39 L317.10,471.64 L317.20,472.30 L317.30,472.65 L317.40,472.47 L317.61,472.14 L317.84,472.19 L318.08,471.45 L318.33,470.70 L318.58,470.07 L318.82,469.39 L319.07,468.69 L319.30,468.00 L319.42,467.64 L319.53,467.25 L319.64,466.84 L319.75,466.40 L319.85,465.94 L319.96,465.46 L320.06,464.96 L320.16,464.45 L320.26,463.92 L320.36,463.37 L320.46,462.82 L320.56,462.27 L320.66,461.70 L320.76,461.13 L320.86,460.57 L320.96,460.00 L321.06,459.43 L321.17,458.87 L321.27,458.32 L321.37,457.77 L321.48,457.24 L321.59,456.72 L321.70,456.22 L321.82,455.73 L321.93,455.26 L322.05,454.82 L322.17,454.40 L322.30,454.00 L322.50,453.40 L322.72,452.77 L322.95,452.13 L323.18,451.49 L323.42,450.87 L323.66,450.29 L323.89,449.76 L324.12,449.69 L324.34,449.59 L324.54,449.12 L324.73,449.03 L324.90,448.90 L325.04,448.95 L325.16,448.83 L325.27,449.30 L325.37,449.89 L325.45,450.57 L325.53,451.31 L325.61,452.08 L325.67,452.86 L325.74,453.59 L325.80,454.27 L325.87,454.85 L325.94,455.30 L326.02,455.59 L326.10,455.56 L326.18,455.61 L326.24,455.34 L326.29,454.94 L326.33,454.42 L326.37,453.81 L326.41,453.14 L326.46,452.44 L326.52,451.73 L326.59,451.04 L326.68,450.39 L326.79,449.81 L326.93,449.34 L327.10,448.29 L327.30,448.31 L327.66,448.13 L328.08,448.44 L328.54,448.68 L329.04,449.48 L329.54,449.86 L330.04,450.85 L330.50,450.97 L330.90,451.49 L331.30,451.89 L331.70,452.10 L332.09,452.30 L332.48,452.25 L332.87,452.27 L333.25,452.96 L333.63,452.91 L334.00,453.55 L334.31,453.68 L334.63,454.12 L334.94,454.64 L335.25,455.16 L335.56,455.84 L335.86,456.33 L336.16,456.72 L336.45,457.51 L336.73,457.89 L337.00,458.86 L337.26,458.68 L337.50,459.20 L337.67,459.61 L337.84,460.04 L337.99,460.48 L338.14,460.93 L338.28,461.40 L338.41,461.88 L338.54,462.37 L338.66,462.87 L338.78,463.38 L338.89,463.90 L339.00,464.42 L339.11,464.94 L339.22,465.47 L339.33,466.00 L339.43,466.54 L339.54,467.07 L339.65,467.60 L339.75,468.13 L339.87,468.66 L339.98,469.18 L340.10,469.70 L340.22,470.19 L340.33,470.69 L340.45,471.19 L340.57,471.70 L340.69,472.20 L340.80,472.71 L340.92,473.22 L341.04,473.73 L341.16,474.25 L341.27,474.76 L341.39,475.28 L341.51,475.79 L341.62,476.30 L341.73,476.81 L341.85,477.32 L341.96,477.83 L342.07,478.34 L342.18,478.84 L342.29,479.34 L342.39,479.84 L342.50,480.33 L342.60,480.82 L342.70,481.30 L342.81,481.82 L342.91,482.33 L343.01,482.83 L343.12,483.33 L343.21,483.82 L343.31,484.31 L343.41,484.80 L343.50,485.28 L343.60,485.77 L343.69,486.25 L343.78,486.73 L343.87,487.22 L343.96,487.71 L344.05,488.21 L344.14,488.71 L344.23,489.22 L344.32,489.74 L344.41,490.26 L344.50,490.80 L344.58,491.27 L344.65,491.74 L344.73,492.23 L344.80,492.71 L344.88,493.21 L344.95,493.71 L345.03,494.21 L345.10,494.71 L345.17,495.22 L345.24,495.74 L345.32,496.25 L345.39,496.77 L345.46,497.29 L345.53,497.81 L345.60,498.33 L345.67,498.86 L345.75,499.38 L345.82,499.90 L345.89,500.42 L345.96,500.94 L346.03,501.46 L346.11,501.97 L346.18,502.49 L346.25,502.99 L346.33,503.50 L346.40,504.00 L346.48,504.54 L346.56,505.12 L346.64,505.73 L346.71,506.36 L346.79,507.01 L346.87,507.68 L346.95,508.36 L347.03,509.04 L347.11,509.72 L347.19,510.40 L347.27,511.06 L347.35,511.71 L347.43,512.34 L347.51,512.94 L347.59,513.51 L347.67,514.04 L347.75,514.52 L347.83,514.96 L347.91,515.35 L347.99,515.68 L348.07,515.94 L348.15,516.14 L348.22,515.45 L348.30,515.58 L348.39,515.65 L348.48,516.09 L348.57,515.84 L348.67,515.50 L348.76,515.09 L348.85,514.61 L348.94,514.08 L349.03,513.50 L349.12,512.88 L349.21,512.24 L349.30,511.58 L349.39,510.91 L349.47,510.25 L349.56,509.60 L349.64,508.96 L349.72,508.36 L349.80,507.80 L349.87,507.32 L349.94,506.83 L350.00,506.33 L350.06,505.83 L350.12,505.32 L350.18,504.81 L350.24,504.30 L350.30,503.78 L350.36,503.26 L350.42,502.73 L350.47,502.20 L350.53,501.67 L350.58,501.14 L350.64,500.61 L350.69,500.08 L350.75,499.55 L350.81,499.02 L350.86,498.49 L350.92,497.97 L350.98,497.44 L351.04,496.92 L351.10,496.40 L351.16,495.89 L351.22,495.38 L351.29,494.87 L351.35,494.36 L351.42,493.86 L351.49,493.36 L351.55,492.86 L351.62,492.36 L351.69,491.86 L351.75,491.35 L351.82,490.85 L351.89,490.35 L351.95,489.84 L352.02,489.33 L352.08,488.82 L352.15,488.30 L352.21,487.78 L352.27,487.26 L352.33,486.73 L352.39,486.19 L352.44,485.65 L352.50,485.10 L352.54,484.63 L352.59,484.14 L352.63,483.64 L352.67,483.12 L352.71,482.60 L352.75,482.07 L352.78,481.53 L352.82,480.98 L352.85,480.43 L352.89,479.87 L352.92,479.31 L352.95,478.75 L352.98,478.19 L353.02,477.64 L353.05,477.08 L353.08,476.53 L353.11,475.98 L353.14,475.45 L353.18,474.92 L353.21,474.39 L353.24,473.88 L353.28,473.39 L353.31,472.90 L353.35,472.43 L353.39,471.98 L353.43,471.54 L353.47,471.13 L353.51,470.73 L353.55,470.35 L353.60,470.00 L353.69,469.37 L353.79,468.82 L353.89,468.31 L353.99,467.84 L354.09,467.38 L354.20,466.94 L354.30,466.48 L354.40,466.00" stroke="#f85a5a" class="cv"/>
<path d="M13.50,459.30 L14.02,459.08 L14.54,459.70 L15.07,459.50 L15.59,458.81 L16.11,458.66 L16.63,458.74 L17.15,458.30 L17.67,458.36 L18.20,458.04 L18.72,458.34 L19.25,458.36 L19.77,458.58 L20.30,457.75 L20.81,457.96 L21.34,457.02 L21.87,456.88 L22.40,456.69 L22.94,457.41 L23.47,456.45 L24.01,456.56 L24.54,456.56 L25.06,456.55 L25.58,456.20 L26.08,455.39 L26.57,455.58 L27.04,455.98 L27.50,455.48 L28.05,455.69 L28.58,456.68 L29.10,455.93 L29.60,456.13 L30.09,456.34 L30.56,457.20 L31.02,456.88 L31.47,457.28 L31.90,457.76 L32.36,458.61 L32.81,458.20 L33.23,458.86 L33.64,459.49 L34.03,460.02 L34.42,459.57 L34.80,459.84 L35.16,459.70 L35.50,458.67 L35.84,458.38 L36.16,458.12 L36.48,456.89 L36.79,457.36 L37.10,456.08 L37.40,456.19 L37.65,456.83 L37.89,456.66 L38.13,457.38 L38.36,457.52 L38.59,458.04 L38.82,458.60 L39.04,459.20 L39.26,459.81 L39.48,460.41 L39.69,460.98 L39.90,461.50 L40.10,461.96 L40.29,462.43 L40.48,462.90 L40.67,463.37 L40.86,463.85 L41.04,464.33 L41.22,464.81 L41.40,465.30 L41.57,465.79 L41.75,466.29 L41.92,466.79 L42.10,467.30 L42.26,467.75 L42.41,468.22 L42.57,468.68 L42.72,469.15 L42.88,469.63 L43.04,470.11 L43.19,470.59 L43.34,471.07 L43.49,471.56 L43.64,472.05 L43.78,472.54 L43.92,473.03 L44.05,473.52 L44.18,474.01 L44.30,474.50 L44.42,474.99 L44.53,475.47 L44.64,475.94 L44.75,476.41 L44.85,476.88 L44.95,477.35 L45.04,477.83 L45.13,478.30 L45.22,478.79 L45.31,479.29 L45.39,479.80 L45.47,480.32 L45.55,480.86 L45.63,481.42 L45.70,482.00 L45.75,482.44 L45.80,482.92 L45.84,483.45 L45.88,484.00 L45.92,484.59 L45.95,485.20 L45.98,485.83 L46.01,486.48 L46.04,487.15 L46.07,487.82 L46.09,488.50 L46.12,489.19 L46.14,489.87 L46.16,490.54 L46.18,491.21 L46.21,491.86 L46.23,492.49 L46.25,493.11 L46.28,493.69 L46.31,494.25 L46.33,494.77 L46.36,495.26 L46.39,495.70 L46.43,496.10 L46.47,496.45 L46.51,496.74 L46.55,496.98 L46.59,497.15 L46.65,497.35 L46.70,497.73 L46.77,497.47 L46.84,497.05 L46.90,496.74 L46.97,496.33 L47.04,495.84 L47.12,495.27 L47.19,494.63 L47.27,493.94 L47.35,493.22 L47.43,492.47 L47.51,491.70 L47.60,490.94 L47.69,490.18 L47.79,489.45 L47.89,488.76 L47.99,488.12 L48.09,487.54 L48.21,487.03 L48.32,486.61 L48.44,486.29 L48.57,485.93 L48.70,485.72 L48.87,485.88 L49.04,486.14 L49.22,486.35 L49.41,486.81 L49.60,487.23 L49.81,487.73 L50.01,488.27 L50.22,488.87 L50.44,489.49 L50.66,490.13 L50.88,490.78 L51.10,491.42 L51.33,492.05 L51.57,492.64 L51.80,493.20 L51.99,493.63 L52.18,494.07 L52.38,494.52 L52.58,494.99 L52.79,495.47 L53.00,495.96 L53.21,496.45 L53.43,496.95 L53.65,497.45 L53.87,497.96 L54.09,498.47 L54.32,498.98 L54.54,499.48 L54.76,499.99 L54.99,500.49 L55.21,500.98 L55.43,501.46 L55.65,501.94 L55.87,502.40 L56.08,502.85 L56.29,503.29 L56.50,503.71 L56.70,504.42 L56.90,504.67 L57.17,505.33 L57.43,505.49 L57.69,505.97 L57.95,506.57 L58.20,506.88 L58.45,507.13 L58.70,507.71 L58.95,508.12 L59.21,508.32 L59.46,508.82 L59.73,509.45 L60.00,509.70 L60.38,510.26 L60.77,510.87 L61.16,511.06 L61.55,511.49 L61.96,512.12 L62.37,511.97 L62.80,512.47 L63.28,512.36 L63.77,512.90 L64.28,513.44 L64.79,513.73 L65.30,514.30 L65.80,514.34 L66.24,513.85 L66.68,513.48 L67.13,513.50 L67.57,513.05 L67.99,512.55 L68.41,512.00 L68.80,511.69 L69.12,511.78 L69.42,511.48 L69.71,511.02 L69.99,510.54 L70.26,510.05 L70.53,509.59 L70.79,509.06 L71.06,508.58 L71.33,507.88 L71.60,507.23 L71.81,507.00 L72.01,506.57 L72.21,506.13 L72.41,505.68 L72.61,505.21 L72.81,504.73 L73.01,504.25 L73.21,503.76 L73.41,503.27 L73.61,502.78 L73.82,502.30 L74.02,501.82 L74.23,501.35 L74.44,500.89 L74.66,500.44 L74.88,500.10 L75.10,499.88 L75.38,499.49 L75.67,498.56 L75.97,498.31 L76.27,497.71 L76.58,496.99 L76.89,496.47 L77.20,496.40 L77.50,495.68 L77.79,495.33 L78.07,495.01 L78.35,495.07 L78.60,494.56 L78.94,493.92 L79.23,493.62 L79.51,493.29 L79.80,492.78 L80.12,492.06 L80.50,491.77 L80.75,491.28 L81.02,490.65 L81.31,490.24 L81.61,489.80 L81.92,489.31 L82.25,489.25 L82.58,488.76 L82.93,488.64 L83.29,488.40 L83.65,487.79 L84.01,487.36 L84.39,486.94 L84.76,486.49 L85.14,485.76 L85.52,485.41 L85.90,484.91 L86.25,484.43 L86.60,484.46 L86.96,484.11 L87.33,483.76 L87.70,483.31 L88.07,483.38 L88.46,482.90 L88.84,482.78 L89.23,482.25 L89.62,481.59 L90.01,481.38 L90.41,480.87 L90.81,480.38 L91.21,480.30 L91.60,479.83 L92.00,479.54 L92.40,479.29 L92.80,479.35 L93.20,478.91 L93.62,478.50 L94.04,478.05 L94.46,477.99 L94.88,477.34 L95.31,477.28 L95.73,477.03 L96.16,476.79 L96.59,476.35 L97.02,476.57 L97.45,476.23 L97.88,476.11 L98.31,475.83 L98.75,475.17 L99.19,474.83 L99.62,474.76 L100.06,474.19 L100.50,473.92 L100.98,473.77 L101.46,473.95 L101.95,473.71 L102.45,473.85 L102.94,473.10 L103.44,472.95 L103.93,472.77 L104.43,472.44 L104.93,472.37 L105.42,472.20 L105.91,472.29 L106.39,472.31 L106.87,472.17 L107.34,471.87 L107.80,471.54 L108.32,471.32 L108.84,470.95 L109.35,470.86 L109.86,471.00 L110.36,471.05 L110.85,471.12 L111.35,471.00 L111.84,471.38 L112.33,471.20 L112.81,470.59 L113.30,469.87 L113.76,469.57 L114.22,469.62 L114.68,469.90 L115.13,470.07 L115.58,470.50 L116.03,470.23 L116.48,469.97 L116.92,469.28 L117.37,468.82 L117.81,467.65 L118.26,467.15 L118.70,467.19 L119.13,466.97 L119.55,467.10 L119.97,467.46 L120.39,467.58 L120.81,467.37 L121.23,466.78 L121.65,466.12 L122.07,465.29 L122.49,464.50 L122.91,464.16 L123.34,463.81 L123.77,463.87 L124.20,464.51 L124.68,464.82 L125.17,464.68 L125.65,464.52 L126.14,463.72 L126.63,462.93 L127.13,462.50 L127.62,462.35 L128.12,461.94 L128.61,462.47 L129.11,463.07 L129.60,462.95 L130.10,463.16 L130.60,462.53 L131.11,462.04 L131.62,461.36 L132.12,460.93 L132.63,460.84 L133.14,460.80 L133.64,461.52 L134.13,461.77 L134.62,461.60 L135.10,461.11 L135.56,460.54 L136.01,459.73 L136.45,459.07 L136.88,458.94 L137.31,458.48 L137.74,458.93 L138.17,458.83 L138.61,459.30 L139.06,459.16 L139.52,458.82 L140.00,458.25 L140.47,457.35 L140.95,456.78 L141.43,456.57 L141.92,456.55 L142.42,457.29 L142.92,457.75 L143.43,458.09 L143.96,458.11 L144.50,457.40 L145.05,456.61 L145.62,456.02 L146.20,456.21 L146.64,456.21 L147.09,456.89 L147.56,457.05 L148.03,457.41 L148.52,457.54 L149.02,457.25 L149.52,456.40 L150.03,455.78 L150.54,455.36 L151.07,455.37 L151.59,456.15 L152.12,456.72 L152.65,456.88 L153.19,456.70 L153.72,456.61 L154.26,455.73 L154.79,455.29 L155.32,454.92 L155.85,455.01 L156.37,455.90 L156.89,456.16 L157.40,456.90 L157.91,456.43 L158.42,456.08 L158.93,455.32 L159.44,454.98 L159.94,455.11 L160.45,455.16 L160.96,455.79 L161.47,456.41 L161.98,456.78 L162.49,457.03 L163.00,456.50 L163.51,456.23 L164.02,455.76 L164.53,455.60 L165.03,456.14 L165.54,456.79 L166.05,457.11 L166.56,457.75 L167.07,457.70 L167.58,457.06 L168.09,456.78 L168.60,455.93 L169.11,456.11 L169.62,456.50 L170.13,456.93 L170.64,457.55 L171.14,457.90 L171.65,457.73 L172.16,457.15 L172.67,456.66 L173.18,456.11 L173.69,456.17 L174.20,456.43 L174.71,457.01 L175.22,457.28 L175.73,457.92 L176.24,457.89 L176.75,457.03 L177.26,456.68 L177.76,455.94 L178.27,455.74 L178.78,456.16 L179.29,456.85 L179.80,457.21 L180.31,457.69 L180.82,457.79 L181.33,457.45 L181.84,456.67 L182.35,456.20 L182.86,455.96 L183.37,456.37 L183.88,457.28 L184.39,457.53 L184.90,458.26 L185.40,458.26 L185.91,458.02 L186.42,457.45 L186.93,456.60 L187.44,456.58 L187.95,457.09 L188.46,457.58 L188.97,458.35 L189.48,458.41 L189.98,458.89 L190.49,458.36 L191.00,458.02 L191.51,457.44 L192.03,457.16 L192.56,457.53 L193.09,457.90 L193.62,459.06 L194.16,459.48 L194.70,459.38 L195.23,458.97 L195.77,458.45 L196.31,457.90 L196.84,457.82 L197.37,458.47 L197.89,459.34 L198.41,459.92 L198.92,460.21 L199.42,459.80 L199.91,459.47 L200.39,458.97 L200.86,458.77 L201.32,458.92 L201.77,459.08 L202.20,459.60 L202.76,460.31 L203.29,460.73 L203.81,460.90 L204.31,461.00 L204.80,460.51 L205.28,460.00 L205.74,459.90 L206.20,459.91 L206.66,460.34 L207.11,461.04 L207.55,461.69 L208.00,462.23 L208.50,462.78 L208.98,462.46 L209.44,462.04 L209.90,461.83 L210.35,461.90 L210.81,462.31 L211.26,463.05 L211.73,463.94 L212.21,464.52 L212.70,464.86 L213.16,464.89 L213.64,464.08 L214.13,463.30 L214.62,462.90 L215.12,462.22 L215.62,462.34 L216.13,462.40 L216.63,462.90 L217.13,462.65 L217.63,462.54 L218.12,462.30 L218.60,461.37 L219.12,461.00 L219.65,460.62 L220.17,460.89 L220.69,461.73 L221.20,462.53 L221.71,462.91 L222.22,463.38 L222.72,463.18 L223.21,462.82 L223.70,462.77 L224.11,462.85 L224.52,462.92 L224.93,463.44 L225.34,464.44 L225.74,465.22 L226.14,465.78 L226.53,466.31 L226.92,466.41 L227.29,466.64 L227.66,466.50 L228.02,466.57 L228.37,466.33 L228.70,466.40 L229.03,467.19 L229.35,467.61 L229.66,468.40 L229.95,469.12 L230.24,469.88 L230.52,470.38 L230.79,471.25 L231.06,471.65 L231.32,471.97 L231.58,472.16 L231.84,472.36 L232.10,472.61 L232.33,472.80 L232.55,472.97 L232.78,473.82 L233.00,474.29 L233.23,474.78 L233.44,475.27 L233.66,475.77 L233.87,476.27 L234.08,476.77 L234.29,477.26 L234.49,477.74 L234.68,478.21 L234.87,478.66 L235.05,479.10 L235.23,479.51 L235.40,479.90 L235.63,480.51 L235.81,481.14 L235.97,481.75 L236.14,482.32 L236.33,483.48 L236.58,483.74 L236.90,483.33 L237.14,483.07 L237.42,482.30 L237.74,482.17 L238.08,481.68 L238.46,481.53 L238.85,481.19 L239.26,481.31 L239.68,481.17 L240.11,481.04 L240.55,480.30 L240.98,479.64 L241.41,478.64 L241.83,477.45 L242.24,476.61 L242.63,476.18 L242.99,475.86 L243.33,476.12 L243.63,476.32 L243.90,476.42 L244.15,476.93 L244.38,477.06 L244.59,477.90 L244.77,477.27 L244.94,477.69 L245.09,478.17 L245.23,478.69 L245.36,479.25 L245.48,479.84 L245.60,480.45 L245.71,481.07 L245.82,481.69 L245.93,482.30 L246.05,482.90 L246.17,483.47 L246.30,484.00 L246.42,484.46 L246.53,484.94 L246.64,485.43 L246.75,485.92 L246.85,486.43 L246.95,486.94 L247.05,487.45 L247.15,487.97 L247.25,488.48 L247.34,489.00 L247.44,489.51 L247.54,490.03 L247.64,490.53 L247.74,491.03 L247.84,491.52 L247.95,492.00 L248.05,492.47 L248.16,492.93 L248.28,493.37 L248.40,493.80 L248.57,494.38 L248.73,494.96 L248.89,495.52 L249.05,496.07 L249.21,496.60 L249.38,497.12 L249.57,497.62 L249.77,498.10 L249.99,499.36 L250.23,499.30 L250.50,499.40 L250.86,499.81 L251.27,499.72 L251.70,499.72 L252.15,499.97 L252.62,500.57 L253.09,501.56 L253.55,502.63 L254.00,503.15 L254.35,503.22 L254.72,503.54 L255.08,503.61 L255.45,504.10 L255.82,504.25 L256.19,504.59 L256.55,504.81 L256.91,505.38 L257.25,505.97 L257.58,506.75 L257.90,507.35 L258.20,507.70 L258.46,507.74 L258.71,507.78 L258.93,507.48 L259.14,506.00 L259.34,505.51 L259.53,504.95 L259.72,504.35 L259.91,503.73 L260.10,503.10 L260.31,502.47 L260.52,501.87 L260.75,501.31 L261.00,499.84 L261.24,499.64 L261.49,499.86 L261.74,499.34 L262.01,498.80 L262.27,498.26 L262.55,498.03 L262.83,497.75 L263.11,497.68 L263.40,496.89 L263.69,496.35 L263.99,496.19 L264.29,495.28 L264.59,494.62 L264.89,494.27 L265.20,493.96 L265.60,493.55 L266.02,494.00 L266.44,494.27 L266.88,495.49 L267.32,496.13 L267.75,496.84 L268.19,497.12 L268.61,497.36 L269.01,497.56 L269.40,497.45 L269.67,497.81 L269.94,498.17 L270.20,498.14 L270.46,498.83 L270.71,499.33 L270.96,500.02 L271.20,500.84 L271.44,501.42 L271.68,501.91 L271.91,502.41 L272.13,502.91 L272.35,503.42 L272.57,503.93 L272.78,504.43 L272.99,504.94 L273.20,505.43 L273.40,505.92 L273.60,506.40 L273.80,506.88 L273.99,507.35 L274.18,507.81 L274.36,508.27 L274.54,508.72 L274.71,509.17 L274.88,509.62 L275.05,510.08 L275.21,510.54 L275.36,511.01 L275.52,511.50 L275.67,512.00 L275.82,512.51 L275.97,513.05 L276.11,513.61 L276.26,514.19 L276.40,514.80 L276.48,515.18 L276.57,515.58 L276.64,515.99 L276.72,516.41 L276.80,516.85 L276.87,517.30 L276.94,517.77 L277.01,518.24 L277.08,518.72 L277.15,519.22 L277.22,519.72 L277.28,520.23 L277.34,520.75 L277.40,521.28 L277.47,521.81 L277.53,522.35 L277.58,522.89 L277.64,523.44 L277.70,523.99 L277.76,524.55 L277.81,525.10 L277.87,525.66 L277.92,526.22 L277.98,526.78 L278.03,527.34 L278.09,527.90 L278.14,528.46 L278.20,529.01 L278.25,529.56 L278.31,530.11 L278.37,530.65 L278.42,531.19 L278.48,531.72 L278.54,532.25 L278.59,532.77 L278.65,533.28 L278.71,533.78 L278.77,534.27 L278.83,534.75 L278.90,535.23 L278.96,535.69 L279.02,536.14 L279.09,536.57 L279.16,537.00 L279.23,537.41 L279.30,537.80 L279.41,538.39 L279.53,538.95 L279.64,539.48 L279.76,539.99 L279.87,540.49 L279.99,540.96 L280.11,541.43 L280.23,541.88 L280.35,542.33 L280.47,542.78 L280.59,543.22 L280.72,543.66 L280.84,544.11 L280.96,544.57 L281.09,545.04 L281.22,545.53 L281.34,546.03 L281.47,546.55 L281.60,547.10 L281.70,547.53 L281.80,547.97 L281.90,548.41 L282.00,548.86 L282.10,549.32 L282.20,549.78 L282.31,550.26 L282.41,550.73 L282.52,551.21 L282.62,551.70 L282.73,552.19 L282.83,552.69 L282.94,553.19 L283.05,553.69 L283.16,554.20 L283.26,554.71 L283.37,555.22 L283.48,555.73 L283.59,556.25 L283.70,556.76 L283.80,557.28 L283.91,557.80 L284.02,558.31 L284.13,558.83 L284.24,559.35 L284.35,559.86 L284.46,560.37 L284.56,560.89 L284.67,561.39 L284.78,561.90 L284.89,562.40 L284.99,562.90 L285.10,563.40 L285.21,563.90 L285.31,564.41 L285.42,564.92 L285.52,565.44 L285.63,565.97 L285.74,566.50 L285.84,567.04 L285.95,567.57 L286.06,568.12 L286.16,568.66 L286.27,569.20 L286.38,569.75 L286.48,570.29 L286.59,570.83 L286.69,571.37 L286.80,571.91 L286.91,572.44 L287.01,572.97 L287.12,573.49 L287.23,574.00 L287.33,574.51 L287.44,575.01 L287.54,575.50 L287.65,575.98 L287.76,576.45 L287.86,576.90 L287.97,577.35 L288.07,577.78 L288.18,578.19 L288.28,578.59 L288.39,578.98 L288.49,579.35 L288.60,579.70 L288.78,580.33 L288.96,580.97 L289.12,581.60 L289.29,582.21 L289.45,582.78 L289.63,583.28 L289.81,583.73 L290.02,584.49 L290.25,584.64 L290.50,585.23 L290.75,585.24 L291.03,584.93 L291.31,584.55 L291.61,584.29 L291.93,583.33 L292.25,582.36 L292.59,581.46 L292.94,580.83 L293.29,580.12 L293.66,579.57 L294.03,579.82 L294.40,579.87 L294.84,580.05 L295.31,580.11 L295.81,579.87 L296.32,579.11 L296.83,578.65 L297.34,577.81 L297.83,577.14 L298.30,577.40 L298.72,577.35 L299.10,577.30 L299.43,577.74 L299.72,577.30 L299.98,577.14 L300.22,576.60 L300.43,575.48 L300.63,575.01 L300.82,574.51 L301.01,573.96 L301.20,573.36 L301.40,572.70 L301.48,572.41 L301.57,572.09 L301.65,571.77 L301.73,571.43 L301.80,571.07 L301.88,570.70 L301.95,570.31 L302.03,569.91 L302.10,569.50 L302.17,569.07 L302.24,568.64 L302.30,568.19 L302.37,567.73 L302.44,567.26 L302.50,566.78 L302.56,566.29 L302.62,565.80 L302.68,565.29 L302.75,564.78 L302.80,564.25 L302.86,563.73 L302.92,563.19 L302.98,562.65 L303.03,562.10 L303.09,561.55 L303.15,561.00 L303.20,560.44 L303.26,559.88 L303.31,559.31 L303.37,558.74 L303.42,558.17 L303.48,557.60 L303.53,557.03 L303.58,556.46 L303.64,555.89 L303.69,555.31 L303.75,554.74 L303.80,554.18 L303.86,553.61 L303.91,553.05 L303.97,552.48 L304.03,551.93 L304.08,551.38 L304.14,550.83 L304.20,550.28 L304.26,549.75 L304.32,549.22 L304.38,548.69 L304.44,548.18 L304.50,547.67 L304.57,547.16 L304.63,546.67 L304.70,546.19 L304.76,545.72 L304.83,545.25 L304.90,544.80 L304.99,544.25 L305.08,543.70 L305.16,543.16 L305.25,542.62 L305.34,542.08 L305.43,541.55 L305.52,541.02 L305.61,540.50 L305.71,539.98 L305.80,539.46 L305.89,538.95 L305.98,538.44 L306.08,537.93 L306.17,537.42 L306.27,536.92 L306.36,536.42 L306.46,535.92 L306.55,535.43 L306.65,534.93 L306.74,534.44 L306.84,533.95 L306.94,533.46 L307.03,532.97 L307.13,532.49 L307.23,532.00 L307.32,531.52 L307.42,531.03 L307.52,530.55 L307.62,530.07 L307.71,529.58 L307.81,529.10 L307.91,528.62 L308.01,528.14 L308.11,527.65 L308.20,527.17 L308.30,526.69 L308.40,526.20 L308.50,525.69 L308.61,525.17 L308.71,524.64 L308.81,524.12 L308.92,523.59 L309.02,523.06 L309.12,522.52 L309.23,521.99 L309.33,521.45 L309.44,520.91 L309.54,520.38 L309.65,519.84 L309.75,519.31 L309.86,518.77 L309.96,518.25 L310.07,517.72 L310.17,517.20 L310.28,516.68 L310.38,516.17 L310.49,515.67 L310.60,515.17 L310.70,514.68 L310.81,514.19 L310.92,513.71 L311.03,513.25 L311.13,512.79 L311.24,512.34 L311.35,511.90 L311.46,511.48 L311.57,511.06 L311.68,510.66 L311.79,510.27 L311.90,509.90 L312.09,509.26 L312.29,508.59 L312.48,507.92 L312.68,507.24 L312.89,506.60 L313.09,505.99 L313.29,505.43 L313.48,504.94 L313.67,505.38 L313.86,505.15 L314.03,505.11 L314.20,505.07 L314.29,505.04 L314.38,504.96 L314.47,504.91 L314.56,504.47 L314.64,504.71 L314.72,504.99 L314.80,505.32 L314.88,505.68 L314.95,506.09 L315.03,506.52 L315.10,506.99 L315.17,507.49 L315.24,508.01 L315.31,508.56 L315.38,509.14 L315.44,509.73 L315.51,510.34 L315.57,510.96 L315.63,511.60 L315.69,512.24 L315.75,512.90 L315.81,513.56 L315.87,514.22 L315.92,514.88 L315.98,515.54 L316.03,516.20 L316.09,516.85 L316.14,517.49 L316.19,518.12 L316.24,518.73 L316.30,519.33 L316.35,519.91 L316.40,520.46 L316.45,520.99 L316.50,521.50 L316.55,522.03 L316.60,522.59 L316.64,523.18 L316.68,523.78 L316.72,524.41 L316.75,525.05 L316.79,525.70 L316.82,526.36 L316.85,527.03 L316.87,527.71 L316.90,528.38 L316.92,529.06 L316.95,529.73 L316.97,530.39 L317.00,531.04 L317.02,531.68 L317.05,532.31 L317.07,532.91 L317.10,533.49 L317.13,534.05 L317.16,534.59 L317.19,535.09 L317.23,535.55 L317.27,535.99 L317.31,536.38 L317.35,536.73 L317.40,537.04 L317.45,537.30 L317.51,537.51 L317.57,537.66 L317.63,538.26 L317.70,538.02 L317.85,538.15 L318.01,538.19 L318.19,537.11 L318.37,536.62 L318.56,536.03 L318.75,535.36 L318.94,534.66 L319.12,533.93 L319.30,533.20 L319.37,532.88 L319.44,532.53 L319.51,532.17 L319.58,531.78 L319.65,531.37 L319.71,530.94 L319.77,530.49 L319.84,530.03 L319.90,529.55 L319.96,529.05 L320.02,528.54 L320.08,528.02 L320.14,527.48 L320.20,526.94 L320.25,526.38 L320.31,525.82 L320.37,525.24 L320.43,524.66 L320.48,524.08 L320.54,523.49 L320.60,522.89 L320.65,522.30 L320.71,521.70 L320.77,521.10 L320.83,520.50 L320.89,519.91 L320.95,519.31 L321.01,518.72 L321.07,518.14 L321.13,517.56 L321.19,516.98 L321.25,516.42 L321.32,515.86 L321.38,515.31 L321.45,514.78 L321.52,514.25 L321.59,513.74 L321.66,513.24 L321.73,512.76 L321.81,512.30 L321.89,511.85 L321.96,511.42 L322.05,511.01 L322.13,510.62 L322.21,510.25 L322.30,509.90 L322.48,509.22 L322.68,508.53 L322.89,507.84 L323.10,507.16 L323.32,506.52 L323.53,505.91 L323.75,505.37 L323.96,504.90 L324.16,504.61 L324.36,504.19 L324.54,503.57 L324.70,503.40 L324.80,503.26 L324.90,504.27 L324.99,504.56 L325.07,504.95 L325.15,505.42 L325.22,505.97 L325.29,506.58 L325.36,507.24 L325.42,507.94 L325.47,508.67 L325.53,509.43 L325.58,510.19 L325.63,510.95 L325.68,511.71 L325.73,512.44 L325.77,513.13 L325.82,513.79 L325.87,514.39 L325.92,514.93 L325.97,515.39 L326.02,515.77 L326.08,516.06 L326.14,515.67 L326.20,515.70 L326.27,516.00 L326.33,516.06 L326.39,515.78 L326.44,515.41 L326.49,514.96 L326.54,514.44 L326.59,513.87 L326.65,513.25 L326.70,512.59 L326.76,511.92 L326.82,511.23 L326.88,510.55 L326.96,509.88 L327.04,509.24 L327.13,508.63 L327.23,508.07 L327.34,507.57 L327.46,507.14 L327.60,506.80 L327.91,506.97 L328.26,506.22 L328.63,505.69 L329.02,504.68 L329.40,504.50 L329.65,504.24 L329.91,504.15 L330.17,504.75 L330.43,505.42 L330.70,505.77 L330.97,506.96 L331.24,507.51 L331.51,508.07 L331.77,508.62 L332.04,509.98 L332.30,510.52 L332.56,511.11 L332.82,511.40 L333.08,511.10 L333.34,511.37 L333.59,511.67 L333.85,511.59 L334.10,511.81 L334.36,512.11 L334.61,512.23 L334.85,513.87 L335.10,514.40 L335.26,514.78 L335.43,515.17 L335.59,515.57 L335.75,515.99 L335.92,516.41 L336.08,516.85 L336.24,517.30 L336.40,517.76 L336.56,518.23 L336.72,518.71 L336.88,519.20 L337.04,519.70 L337.20,520.20 L337.35,520.71 L337.50,521.22 L337.65,521.75 L337.80,522.27 L337.95,522.80 L338.09,523.34 L338.24,523.88 L338.37,524.42 L338.51,524.96 L338.64,525.51 L338.77,526.05 L338.90,526.60 L339.00,527.04 L339.10,527.49 L339.19,527.95 L339.28,528.42 L339.37,528.89 L339.46,529.36 L339.55,529.84 L339.64,530.33 L339.72,530.82 L339.80,531.31 L339.88,531.81 L339.96,532.32 L340.04,532.82 L340.11,533.33 L340.19,533.84 L340.26,534.36 L340.33,534.87 L340.40,535.39 L340.47,535.91 L340.54,536.43 L340.61,536.95 L340.68,537.47 L340.74,537.98 L340.81,538.50 L340.87,539.02 L340.94,539.54 L341.00,540.05 L341.07,540.56 L341.13,541.07 L341.19,541.58 L341.26,542.09 L341.32,542.59 L341.38,543.08 L341.45,543.58 L341.51,544.07 L341.57,544.55 L341.64,545.03 L341.70,545.50 L341.77,546.03 L341.84,546.56 L341.91,547.09 L341.98,547.62 L342.04,548.15 L342.11,548.68 L342.17,549.21 L342.23,549.74 L342.29,550.26 L342.36,550.79 L342.42,551.31 L342.47,551.83 L342.53,552.35 L342.59,552.86 L342.65,553.38 L342.71,553.89 L342.77,554.39 L342.83,554.90 L342.89,555.40 L342.95,555.89 L343.01,556.38 L343.07,556.87 L343.13,557.36 L343.19,557.83 L343.26,558.31 L343.32,558.78 L343.39,559.24 L343.46,559.70 L343.53,560.15 L343.60,560.60 L343.69,561.15 L343.79,561.69 L343.88,562.21 L343.98,562.72 L344.08,563.22 L344.18,563.71 L344.29,564.20 L344.39,564.68 L344.49,565.15 L344.60,565.63 L344.70,566.10 L344.80,566.58 L344.91,567.06 L345.01,567.54 L345.11,568.03 L345.21,568.53 L345.31,569.04 L345.41,569.56 L345.50,570.10 L345.58,570.57 L345.66,571.05 L345.74,571.54 L345.81,572.05 L345.89,572.56 L345.97,573.07 L346.04,573.59 L346.12,574.12 L346.19,574.65 L346.27,575.19 L346.34,575.72 L346.41,576.26 L346.48,576.79 L346.56,577.33 L346.63,577.86 L346.70,578.39 L346.77,578.92 L346.84,579.44 L346.91,579.96 L346.98,580.46 L347.05,580.96 L347.12,581.45 L347.19,581.93 L347.26,582.40 L347.33,582.86 L347.40,583.30 L347.49,583.89 L347.58,584.52 L347.67,585.18 L347.75,585.85 L347.84,586.52 L347.93,587.18 L348.01,587.82 L348.10,588.42 L348.18,588.99 L348.27,589.49 L348.35,589.94 L348.44,590.30 L348.53,590.57 L348.61,589.63 L348.70,590.15 L348.76,589.89 L348.83,590.67 L348.89,590.51 L348.95,590.29 L349.02,590.03 L349.08,589.71 L349.15,589.34 L349.21,588.93 L349.28,588.48 L349.34,588.00 L349.41,587.48 L349.47,586.93 L349.54,586.35 L349.60,585.75 L349.67,585.13 L349.74,584.50 L349.80,583.85 L349.87,583.19 L349.93,582.52 L349.99,581.85 L350.06,581.18 L350.12,580.51 L350.18,579.85 L350.24,579.20 L350.31,578.57 L350.37,577.95 L350.43,577.35 L350.48,576.77 L350.54,576.22 L350.60,575.70 L350.66,575.20 L350.71,574.69 L350.77,574.19 L350.82,573.69 L350.88,573.18 L350.93,572.68 L350.98,572.18 L351.03,571.68 L351.09,571.17 L351.14,570.67 L351.19,570.17 L351.24,569.66 L351.29,569.16 L351.34,568.66 L351.39,568.15 L351.44,567.65 L351.48,567.15 L351.53,566.64 L351.58,566.14 L351.63,565.63 L351.68,565.13 L351.72,564.63 L351.77,564.12 L351.82,563.62 L351.87,563.12 L351.91,562.61 L351.96,562.11 L352.01,561.61 L352.05,561.10 L352.10,560.60 L352.15,560.09 L352.19,559.58 L352.24,559.06 L352.28,558.53 L352.32,558.00 L352.37,557.46 L352.41,556.92 L352.45,556.38 L352.49,555.83 L352.53,555.29 L352.57,554.74 L352.61,554.20 L352.65,553.66 L352.69,553.12 L352.74,552.58 L352.78,552.05 L352.82,551.52 L352.86,551.00 L352.90,550.48 L352.94,549.98 L352.98,549.48 L353.03,548.99 L353.07,548.51 L353.12,548.04 L353.16,547.58 L353.21,547.14 L353.25,546.71 L353.30,546.29 L353.35,545.89 L353.40,545.50 L353.48,544.90 L353.57,544.33 L353.66,543.80 L353.75,543.30 L353.84,542.81 L353.94,542.34 L354.03,541.88 L354.12,541.42 L354.22,540.96 L354.31,540.49 L354.40,540.00" stroke="#3f80ea" class="cv"/>
<path d="M13.3,365.10 H354.4 V640.40 H13.3 Z" class="fr"/>
<path d="M13.30,640.40 V645.40 M60.69,640.40 V645.40 M108.07,640.40 V645.40 M155.46,640.40 V645.40 M202.84,640.40 V645.40 M250.22,640.40 V645.40 M297.61,640.40 V645.40 M345.00,640.40 V645.40 M21.20,640.40 V643.00 M29.09,640.40 V643.00 M36.99,640.40 V643.00 M44.89,640.40 V643.00 M52.79,640.40 V643.00 M68.58,640.40 V643.00 M76.48,640.40 V643.00 M84.38,640.40 V643.00 M92.27,640.40 V643.00 M100.17,640.40 V643.00 M115.97,640.40 V643.00 M123.86,640.40 V643.00 M131.76,640.40 V643.00 M139.66,640.40 V643.00 M147.56,640.40 V643.00 M163.35,640.40 V643.00 M171.25,640.40 V643.00 M179.15,640.40 V643.00 M187.04,640.40 V643.00 M194.94,640.40 V643.00 M210.74,640.40 V643.00 M218.63,640.40 V643.00 M226.53,640.40 V643.00 M234.43,640.40 V643.00 M242.33,640.40 V643.00 M258.12,640.40 V643.00 M266.02,640.40 V643.00 M273.92,640.40 V643.00 M281.81,640.40 V643.00 M289.71,640.40 V643.00 M305.51,640.40 V643.00 M313.40,640.40 V643.00 M321.30,640.40 V643.00 M329.20,640.40 V643.00 M337.10,640.40 V643.00 M352.89,640.40 V643.00" class="tk"/>
<text transform="translate(13.30,659.20) scale(1,1.1)" class="tl">4000</text>
<text transform="translate(60.69,659.20) scale(1,1.1)" class="tl">3500</text>
<text transform="translate(108.07,659.20) scale(1,1.1)" class="tl">3000</text>
<text transform="translate(155.46,659.20) scale(1,1.1)" class="tl">2500</text>
<text transform="translate(202.84,659.20) scale(1,1.1)" class="tl">2000</text>
<text transform="translate(250.22,659.20) scale(1,1.1)" class="tl">1500</text>
<text transform="translate(297.61,659.20) scale(1,1.1)" class="tl">1000</text>
<text transform="translate(345.00,659.20) scale(1,1.1)" class="tl">500</text>
<text transform="translate(184.60,682.70) scale(1,1.08)" class="at">Wavenumbers (cm<tspan dy="-5" font-size="8.6">-1</tspan><tspan dy="5">)</tspan></text>
<rect x="21.9" y="592.0" width="61.300000000000004" height="41.299999999999955" rx="0.8" class="lg"/>
<path d="M23.6,599.3 H47.2" stroke="#676767" stroke-width="1.1"/>
<text transform="translate(49.20,603.00) scale(1,1.1)" class="lt">OPC0</text>
<path d="M23.6,612.3 H47.2" stroke="#f85a5a" stroke-width="1.1"/>
<text transform="translate(49.20,616.00) scale(1,1.1)" class="lt">OPC15</text>
<path d="M23.6,625.3 H47.2" stroke="#3f80ea" stroke-width="1.1"/>
<text transform="translate(49.20,629.00) scale(1,1.1)" class="lt">OPC20</text>
<text transform="translate(32.80,509.20) scale(1,1.14)" class="an">3642</text>
<text transform="translate(57.00,525.80) scale(1,1.14)" class="an">3441</text>
<text transform="translate(223.40,496.80) scale(1,1.14)" class="an">1636</text>
<text transform="translate(250.50,518.60) scale(1,1.14)" class="an">1407</text>
<text transform="translate(275.80,597.90) scale(1,1.14)" class="an">1079</text>
<text transform="translate(299.10,589.80) scale(1,1.14)" class="an">974</text>
<text transform="translate(306.00,552.50) scale(1,1.14)" class="an">797</text>
<text transform="translate(321.00,543.20) scale(1,1.14)" class="an">778</text>
<text transform="translate(321.90,527.30) scale(1,1.14)" class="an">693</text>
<text transform="translate(337.60,601.80) scale(1,1.14)" class="an">459</text>
</svg>
</body></html>
